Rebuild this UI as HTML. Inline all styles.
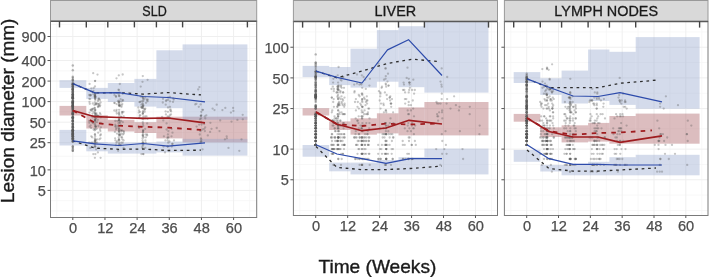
<!DOCTYPE html><html><head><meta charset="utf-8"><style>html,body{margin:0;padding:0;background:#fff;width:709px;height:277px;overflow:hidden}svg{display:block;will-change:transform}</style></head><body>
<svg width="709" height="277" viewBox="0 0 709 277" font-family='"Liberation Sans", sans-serif'>
<rect width="709" height="277" fill="#fff"/>
<clipPath id="cSLD"><rect x="50.5" y="21.2" width="206.2" height="196.3"/></clipPath>
<g clip-path="url(#cSLD)">
<line x1="50.5" x2="256.7" y1="200.67" y2="200.67" stroke="#f6f6f6" stroke-width="0.8"/>
<line x1="50.5" x2="256.7" y1="180.13" y2="180.13" stroke="#f6f6f6" stroke-width="0.8"/>
<line x1="50.5" x2="256.7" y1="156.28" y2="156.28" stroke="#f6f6f6" stroke-width="0.8"/>
<line x1="50.5" x2="256.7" y1="132.43" y2="132.43" stroke="#f6f6f6" stroke-width="0.8"/>
<line x1="50.5" x2="256.7" y1="111.89" y2="111.89" stroke="#f6f6f6" stroke-width="0.8"/>
<line x1="50.5" x2="256.7" y1="91.35" y2="91.35" stroke="#f6f6f6" stroke-width="0.8"/>
<line x1="50.5" x2="256.7" y1="70.81" y2="70.81" stroke="#f6f6f6" stroke-width="0.8"/>
<line x1="50.5" x2="256.7" y1="48.53" y2="48.53" stroke="#f6f6f6" stroke-width="0.8"/>
<line x1="50.5" x2="256.7" y1="24.50" y2="24.50" stroke="#f6f6f6" stroke-width="0.8"/>
<line x1="50.5" x2="256.7" y1="210.94" y2="210.94" stroke="#f6f6f6" stroke-width="0.8"/>
<line x1="50.5" x2="256.7" y1="12.48" y2="12.48" stroke="#f6f6f6" stroke-width="0.8"/>
<line x1="56.72" x2="56.72" y1="21.2" y2="217.5" stroke="#f6f6f6" stroke-width="0.8"/>
<line x1="88.88" x2="88.88" y1="21.2" y2="217.5" stroke="#f6f6f6" stroke-width="0.8"/>
<line x1="121.04" x2="121.04" y1="21.2" y2="217.5" stroke="#f6f6f6" stroke-width="0.8"/>
<line x1="153.20" x2="153.20" y1="21.2" y2="217.5" stroke="#f6f6f6" stroke-width="0.8"/>
<line x1="185.36" x2="185.36" y1="21.2" y2="217.5" stroke="#f6f6f6" stroke-width="0.8"/>
<line x1="217.52" x2="217.52" y1="21.2" y2="217.5" stroke="#f6f6f6" stroke-width="0.8"/>
<line x1="249.68" x2="249.68" y1="21.2" y2="217.5" stroke="#f6f6f6" stroke-width="0.8"/>
<line x1="50.5" x2="256.7" y1="190.40" y2="190.40" stroke="#efefef" stroke-width="1"/>
<line x1="50.5" x2="256.7" y1="169.86" y2="169.86" stroke="#efefef" stroke-width="1"/>
<line x1="50.5" x2="256.7" y1="142.70" y2="142.70" stroke="#efefef" stroke-width="1"/>
<line x1="50.5" x2="256.7" y1="122.16" y2="122.16" stroke="#efefef" stroke-width="1"/>
<line x1="50.5" x2="256.7" y1="101.62" y2="101.62" stroke="#efefef" stroke-width="1"/>
<line x1="50.5" x2="256.7" y1="81.08" y2="81.08" stroke="#efefef" stroke-width="1"/>
<line x1="50.5" x2="256.7" y1="60.54" y2="60.54" stroke="#efefef" stroke-width="1"/>
<line x1="50.5" x2="256.7" y1="36.51" y2="36.51" stroke="#efefef" stroke-width="1"/>
<line x1="72.80" x2="72.80" y1="21.2" y2="217.5" stroke="#efefef" stroke-width="1"/>
<line x1="104.96" x2="104.96" y1="21.2" y2="217.5" stroke="#efefef" stroke-width="1"/>
<line x1="137.12" x2="137.12" y1="21.2" y2="217.5" stroke="#efefef" stroke-width="1"/>
<line x1="169.28" x2="169.28" y1="21.2" y2="217.5" stroke="#efefef" stroke-width="1"/>
<line x1="201.44" x2="201.44" y1="21.2" y2="217.5" stroke="#efefef" stroke-width="1"/>
<line x1="233.60" x2="233.60" y1="21.2" y2="217.5" stroke="#efefef" stroke-width="1"/>
<rect x="59.5" y="105.9" width="26.8" height="9.6" fill="#a85a60" fill-opacity="0.4"/>
<rect x="86.3" y="115.2" width="21.5" height="13.3" fill="#a85a60" fill-opacity="0.4"/>
<rect x="107.8" y="119.8" width="26.6" height="11.7" fill="#a85a60" fill-opacity="0.4"/>
<rect x="134.4" y="122.2" width="22.0" height="10.8" fill="#a85a60" fill-opacity="0.4"/>
<rect x="156.4" y="116.7" width="26.2" height="21.7" fill="#a85a60" fill-opacity="0.4"/>
<rect x="182.6" y="116.7" width="64.8" height="25.7" fill="#a85a60" fill-opacity="0.4"/>
<rect x="59.5" y="80.2" width="26.8" height="7.7" fill="#8da0cb" fill-opacity="0.38"/>
<rect x="86.3" y="87.9" width="21.5" height="11.0" fill="#8da0cb" fill-opacity="0.38"/>
<rect x="107.8" y="83.0" width="26.6" height="19.0" fill="#8da0cb" fill-opacity="0.38"/>
<rect x="134.4" y="78.9" width="22.0" height="27.7" fill="#8da0cb" fill-opacity="0.38"/>
<rect x="156.4" y="50.3" width="26.2" height="57.9" fill="#8da0cb" fill-opacity="0.38"/>
<rect x="182.6" y="44.4" width="64.8" height="75.4" fill="#8da0cb" fill-opacity="0.38"/>
<rect x="59.5" y="129.9" width="26.8" height="15.6" fill="#8da0cb" fill-opacity="0.38"/>
<rect x="86.3" y="142.0" width="21.5" height="9.3" fill="#8da0cb" fill-opacity="0.38"/>
<rect x="107.8" y="142.5" width="26.6" height="11.1" fill="#8da0cb" fill-opacity="0.38"/>
<rect x="134.4" y="142.5" width="22.0" height="11.1" fill="#8da0cb" fill-opacity="0.38"/>
<rect x="156.4" y="141.5" width="26.2" height="10.9" fill="#8da0cb" fill-opacity="0.38"/>
<rect x="182.6" y="138.9" width="64.8" height="16.7" fill="#8da0cb" fill-opacity="0.38"/>
</g>
<clipPath id="cLIVER"><rect x="293.4" y="21.4" width="204.10000000000002" height="194.1"/></clipPath>
<g clip-path="url(#cLIVER)">
<line x1="293.4" x2="497.5" y1="195.11" y2="195.11" stroke="#f6f6f6" stroke-width="0.8"/>
<line x1="293.4" x2="497.5" y1="164.45" y2="164.45" stroke="#f6f6f6" stroke-width="0.8"/>
<line x1="293.4" x2="497.5" y1="128.84" y2="128.84" stroke="#f6f6f6" stroke-width="0.8"/>
<line x1="293.4" x2="497.5" y1="93.24" y2="93.24" stroke="#f6f6f6" stroke-width="0.8"/>
<line x1="293.4" x2="497.5" y1="62.57" y2="62.57" stroke="#f6f6f6" stroke-width="0.8"/>
<line x1="293.4" x2="497.5" y1="31.90" y2="31.90" stroke="#f6f6f6" stroke-width="0.8"/>
<line x1="293.4" x2="497.5" y1="210.45" y2="210.45" stroke="#f6f6f6" stroke-width="0.8"/>
<line x1="293.4" x2="497.5" y1="16.57" y2="16.57" stroke="#f6f6f6" stroke-width="0.8"/>
<line x1="299.72" x2="299.72" y1="21.4" y2="215.5" stroke="#f6f6f6" stroke-width="0.8"/>
<line x1="331.68" x2="331.68" y1="21.4" y2="215.5" stroke="#f6f6f6" stroke-width="0.8"/>
<line x1="363.63" x2="363.63" y1="21.4" y2="215.5" stroke="#f6f6f6" stroke-width="0.8"/>
<line x1="395.59" x2="395.59" y1="21.4" y2="215.5" stroke="#f6f6f6" stroke-width="0.8"/>
<line x1="427.55" x2="427.55" y1="21.4" y2="215.5" stroke="#f6f6f6" stroke-width="0.8"/>
<line x1="459.50" x2="459.50" y1="21.4" y2="215.5" stroke="#f6f6f6" stroke-width="0.8"/>
<line x1="491.46" x2="491.46" y1="21.4" y2="215.5" stroke="#f6f6f6" stroke-width="0.8"/>
<line x1="293.4" x2="497.5" y1="179.78" y2="179.78" stroke="#efefef" stroke-width="1"/>
<line x1="293.4" x2="497.5" y1="149.11" y2="149.11" stroke="#efefef" stroke-width="1"/>
<line x1="293.4" x2="497.5" y1="108.57" y2="108.57" stroke="#efefef" stroke-width="1"/>
<line x1="293.4" x2="497.5" y1="77.90" y2="77.90" stroke="#efefef" stroke-width="1"/>
<line x1="293.4" x2="497.5" y1="47.23" y2="47.23" stroke="#efefef" stroke-width="1"/>
<line x1="315.70" x2="315.70" y1="21.4" y2="215.5" stroke="#efefef" stroke-width="1"/>
<line x1="347.66" x2="347.66" y1="21.4" y2="215.5" stroke="#efefef" stroke-width="1"/>
<line x1="379.61" x2="379.61" y1="21.4" y2="215.5" stroke="#efefef" stroke-width="1"/>
<line x1="411.57" x2="411.57" y1="21.4" y2="215.5" stroke="#efefef" stroke-width="1"/>
<line x1="443.52" x2="443.52" y1="21.4" y2="215.5" stroke="#efefef" stroke-width="1"/>
<line x1="475.48" x2="475.48" y1="21.4" y2="215.5" stroke="#efefef" stroke-width="1"/>
<rect x="302.6" y="108.2" width="26.6" height="7.3" fill="#a85a60" fill-opacity="0.4"/>
<rect x="329.2" y="121.4" width="21.3" height="8.6" fill="#a85a60" fill-opacity="0.4"/>
<rect x="350.5" y="118.3" width="26.4" height="16.4" fill="#a85a60" fill-opacity="0.4"/>
<rect x="376.9" y="113.3" width="21.6" height="20.1" fill="#a85a60" fill-opacity="0.4"/>
<rect x="398.5" y="107.4" width="25.9" height="28.0" fill="#a85a60" fill-opacity="0.4"/>
<rect x="424.4" y="102.0" width="64.1" height="33.4" fill="#a85a60" fill-opacity="0.4"/>
<rect x="302.6" y="65.9" width="26.6" height="11.2" fill="#8da0cb" fill-opacity="0.38"/>
<rect x="329.2" y="67.0" width="21.3" height="18.1" fill="#8da0cb" fill-opacity="0.38"/>
<rect x="350.5" y="48.7" width="26.4" height="38.9" fill="#8da0cb" fill-opacity="0.38"/>
<rect x="376.9" y="30.1" width="21.6" height="51.6" fill="#8da0cb" fill-opacity="0.38"/>
<rect x="398.5" y="26.2" width="25.9" height="61.0" fill="#8da0cb" fill-opacity="0.38"/>
<rect x="424.4" y="21.4" width="64.1" height="71.2" fill="#8da0cb" fill-opacity="0.38"/>
<rect x="302.6" y="145.0" width="26.6" height="11.7" fill="#8da0cb" fill-opacity="0.38"/>
<rect x="329.2" y="162.6" width="21.3" height="8.7" fill="#8da0cb" fill-opacity="0.38"/>
<rect x="350.5" y="162.6" width="26.4" height="11.8" fill="#8da0cb" fill-opacity="0.38"/>
<rect x="376.9" y="160.0" width="21.6" height="14.4" fill="#8da0cb" fill-opacity="0.38"/>
<rect x="398.5" y="157.2" width="25.9" height="17.2" fill="#8da0cb" fill-opacity="0.38"/>
<rect x="424.4" y="148.6" width="64.1" height="25.8" fill="#8da0cb" fill-opacity="0.38"/>
</g>
<clipPath id="cLYMPHNODES"><rect x="504.4" y="21.4" width="203.60000000000002" height="194.1"/></clipPath>
<g clip-path="url(#cLYMPHNODES)">
<line x1="504.4" x2="708.0" y1="195.11" y2="195.11" stroke="#f6f6f6" stroke-width="0.8"/>
<line x1="504.4" x2="708.0" y1="164.45" y2="164.45" stroke="#f6f6f6" stroke-width="0.8"/>
<line x1="504.4" x2="708.0" y1="128.84" y2="128.84" stroke="#f6f6f6" stroke-width="0.8"/>
<line x1="504.4" x2="708.0" y1="93.24" y2="93.24" stroke="#f6f6f6" stroke-width="0.8"/>
<line x1="504.4" x2="708.0" y1="62.57" y2="62.57" stroke="#f6f6f6" stroke-width="0.8"/>
<line x1="504.4" x2="708.0" y1="31.90" y2="31.90" stroke="#f6f6f6" stroke-width="0.8"/>
<line x1="504.4" x2="708.0" y1="210.45" y2="210.45" stroke="#f6f6f6" stroke-width="0.8"/>
<line x1="504.4" x2="708.0" y1="16.57" y2="16.57" stroke="#f6f6f6" stroke-width="0.8"/>
<line x1="510.79" x2="510.79" y1="21.4" y2="215.5" stroke="#f6f6f6" stroke-width="0.8"/>
<line x1="542.61" x2="542.61" y1="21.4" y2="215.5" stroke="#f6f6f6" stroke-width="0.8"/>
<line x1="574.44" x2="574.44" y1="21.4" y2="215.5" stroke="#f6f6f6" stroke-width="0.8"/>
<line x1="606.26" x2="606.26" y1="21.4" y2="215.5" stroke="#f6f6f6" stroke-width="0.8"/>
<line x1="638.08" x2="638.08" y1="21.4" y2="215.5" stroke="#f6f6f6" stroke-width="0.8"/>
<line x1="669.91" x2="669.91" y1="21.4" y2="215.5" stroke="#f6f6f6" stroke-width="0.8"/>
<line x1="701.73" x2="701.73" y1="21.4" y2="215.5" stroke="#f6f6f6" stroke-width="0.8"/>
<line x1="504.4" x2="708.0" y1="179.78" y2="179.78" stroke="#efefef" stroke-width="1"/>
<line x1="504.4" x2="708.0" y1="149.11" y2="149.11" stroke="#efefef" stroke-width="1"/>
<line x1="504.4" x2="708.0" y1="108.57" y2="108.57" stroke="#efefef" stroke-width="1"/>
<line x1="504.4" x2="708.0" y1="77.90" y2="77.90" stroke="#efefef" stroke-width="1"/>
<line x1="504.4" x2="708.0" y1="47.23" y2="47.23" stroke="#efefef" stroke-width="1"/>
<line x1="526.70" x2="526.70" y1="21.4" y2="215.5" stroke="#efefef" stroke-width="1"/>
<line x1="558.52" x2="558.52" y1="21.4" y2="215.5" stroke="#efefef" stroke-width="1"/>
<line x1="590.35" x2="590.35" y1="21.4" y2="215.5" stroke="#efefef" stroke-width="1"/>
<line x1="622.17" x2="622.17" y1="21.4" y2="215.5" stroke="#efefef" stroke-width="1"/>
<line x1="654.00" x2="654.00" y1="21.4" y2="215.5" stroke="#efefef" stroke-width="1"/>
<line x1="685.82" x2="685.82" y1="21.4" y2="215.5" stroke="#efefef" stroke-width="1"/>
<rect x="513.7" y="113.9" width="26.6" height="7.8" fill="#a85a60" fill-opacity="0.4"/>
<rect x="540.3" y="127.3" width="21.3" height="9.7" fill="#a85a60" fill-opacity="0.4"/>
<rect x="561.6" y="125.3" width="26.5" height="17.1" fill="#a85a60" fill-opacity="0.4"/>
<rect x="588.1" y="122.9" width="21.3" height="18.7" fill="#a85a60" fill-opacity="0.4"/>
<rect x="609.4" y="116.0" width="26.3" height="27.7" fill="#a85a60" fill-opacity="0.4"/>
<rect x="635.7" y="113.6" width="63.9" height="30.1" fill="#a85a60" fill-opacity="0.4"/>
<rect x="513.7" y="72.1" width="26.6" height="10.9" fill="#8da0cb" fill-opacity="0.38"/>
<rect x="540.3" y="78.3" width="21.3" height="16.6" fill="#8da0cb" fill-opacity="0.38"/>
<rect x="561.6" y="70.6" width="26.5" height="32.9" fill="#8da0cb" fill-opacity="0.38"/>
<rect x="588.1" y="49.5" width="21.3" height="51.5" fill="#8da0cb" fill-opacity="0.38"/>
<rect x="609.4" y="51.8" width="26.3" height="53.1" fill="#8da0cb" fill-opacity="0.38"/>
<rect x="635.7" y="37.1" width="63.9" height="71.6" fill="#8da0cb" fill-opacity="0.38"/>
<rect x="513.7" y="149.9" width="26.6" height="11.9" fill="#8da0cb" fill-opacity="0.38"/>
<rect x="540.3" y="164.9" width="21.3" height="6.6" fill="#8da0cb" fill-opacity="0.38"/>
<rect x="561.6" y="165.0" width="26.5" height="10.3" fill="#8da0cb" fill-opacity="0.38"/>
<rect x="588.1" y="161.8" width="21.3" height="13.5" fill="#8da0cb" fill-opacity="0.38"/>
<rect x="609.4" y="157.2" width="26.3" height="18.1" fill="#8da0cb" fill-opacity="0.38"/>
<rect x="635.7" y="154.8" width="63.9" height="20.5" fill="#8da0cb" fill-opacity="0.38"/>
</g>
<g clip-path="url(#cSLD)" fill="#555555" fill-opacity="0.33">
<circle cx="72.8" cy="134.5" r="1.2" fill-opacity="0.42"/>
<circle cx="72.8" cy="113.5" r="1.2" fill-opacity="0.42"/>
<circle cx="72.8" cy="94.3" r="1.2" fill-opacity="0.42"/>
<circle cx="72.8" cy="98.3" r="1.2" fill-opacity="0.42"/>
<circle cx="72.8" cy="96.7" r="1.2" fill-opacity="0.42"/>
<circle cx="72.8" cy="114.8" r="1.2" fill-opacity="0.42"/>
<circle cx="72.8" cy="92.5" r="1.2" fill-opacity="0.42"/>
<circle cx="72.8" cy="108.6" r="1.2" fill-opacity="0.42"/>
<circle cx="72.8" cy="139.3" r="1.2" fill-opacity="0.42"/>
<circle cx="72.8" cy="113.5" r="1.2" fill-opacity="0.42"/>
<circle cx="72.8" cy="141.5" r="1.2" fill-opacity="0.42"/>
<circle cx="72.8" cy="84.5" r="1.2" fill-opacity="0.42"/>
<circle cx="72.8" cy="83.7" r="1.2" fill-opacity="0.42"/>
<circle cx="72.8" cy="121.6" r="1.2" fill-opacity="0.42"/>
<circle cx="72.8" cy="123.4" r="1.2" fill-opacity="0.42"/>
<circle cx="72.8" cy="94.5" r="1.2" fill-opacity="0.42"/>
<circle cx="72.8" cy="130.3" r="1.2" fill-opacity="0.42"/>
<circle cx="72.8" cy="131.9" r="1.2" fill-opacity="0.42"/>
<circle cx="72.8" cy="131.9" r="1.2" fill-opacity="0.42"/>
<circle cx="72.8" cy="121.0" r="1.2" fill-opacity="0.42"/>
<circle cx="72.8" cy="102.8" r="1.2" fill-opacity="0.42"/>
<circle cx="72.8" cy="80.6" r="1.2" fill-opacity="0.42"/>
<circle cx="72.8" cy="130.3" r="1.2" fill-opacity="0.42"/>
<circle cx="72.8" cy="82.3" r="1.2" fill-opacity="0.42"/>
<circle cx="72.8" cy="107.1" r="1.2" fill-opacity="0.42"/>
<circle cx="72.8" cy="86.6" r="1.2" fill-opacity="0.42"/>
<circle cx="72.8" cy="91.4" r="1.2" fill-opacity="0.42"/>
<circle cx="72.8" cy="133.6" r="1.2" fill-opacity="0.42"/>
<circle cx="72.8" cy="101.6" r="1.2" fill-opacity="0.42"/>
<circle cx="72.8" cy="136.3" r="1.2" fill-opacity="0.42"/>
<circle cx="72.8" cy="150.8" r="1.2" fill-opacity="0.42"/>
<circle cx="72.8" cy="117.8" r="1.2" fill-opacity="0.42"/>
<circle cx="72.8" cy="94.1" r="1.2" fill-opacity="0.42"/>
<circle cx="72.8" cy="106.4" r="1.2" fill-opacity="0.42"/>
<circle cx="72.8" cy="131.1" r="1.2" fill-opacity="0.42"/>
<circle cx="72.8" cy="90.0" r="1.2" fill-opacity="0.42"/>
<circle cx="72.8" cy="85.7" r="1.2" fill-opacity="0.42"/>
<circle cx="72.8" cy="128.0" r="1.2" fill-opacity="0.42"/>
<circle cx="72.8" cy="113.9" r="1.2" fill-opacity="0.42"/>
<circle cx="72.8" cy="102.2" r="1.2" fill-opacity="0.42"/>
<circle cx="72.8" cy="86.4" r="1.2" fill-opacity="0.42"/>
<circle cx="72.8" cy="135.4" r="1.2" fill-opacity="0.42"/>
<circle cx="72.8" cy="107.1" r="1.2" fill-opacity="0.42"/>
<circle cx="72.8" cy="79.5" r="1.2" fill-opacity="0.42"/>
<circle cx="72.8" cy="104.1" r="1.2" fill-opacity="0.42"/>
<circle cx="72.8" cy="97.5" r="1.2" fill-opacity="0.42"/>
<circle cx="72.8" cy="94.1" r="1.2" fill-opacity="0.42"/>
<circle cx="72.8" cy="110.1" r="1.2" fill-opacity="0.42"/>
<circle cx="72.8" cy="124.6" r="1.2" fill-opacity="0.42"/>
<circle cx="72.8" cy="105.1" r="1.2" fill-opacity="0.42"/>
<circle cx="72.8" cy="109.0" r="1.2" fill-opacity="0.42"/>
<circle cx="72.8" cy="121.0" r="1.2" fill-opacity="0.42"/>
<circle cx="72.8" cy="89.4" r="1.2" fill-opacity="0.42"/>
<circle cx="72.8" cy="119.9" r="1.2" fill-opacity="0.42"/>
<circle cx="72.8" cy="111.8" r="1.2" fill-opacity="0.42"/>
<circle cx="72.8" cy="94.8" r="1.2" fill-opacity="0.42"/>
<circle cx="72.8" cy="91.7" r="1.2" fill-opacity="0.42"/>
<circle cx="72.8" cy="87.1" r="1.2" fill-opacity="0.42"/>
<circle cx="72.8" cy="101.3" r="1.2" fill-opacity="0.42"/>
<circle cx="72.8" cy="127.3" r="1.2" fill-opacity="0.42"/>
<circle cx="72.8" cy="89.8" r="1.2" fill-opacity="0.42"/>
<circle cx="72.8" cy="86.1" r="1.2" fill-opacity="0.42"/>
<circle cx="72.8" cy="97.7" r="1.2" fill-opacity="0.42"/>
<circle cx="72.8" cy="94.5" r="1.2" fill-opacity="0.42"/>
<circle cx="72.8" cy="109.8" r="1.2" fill-opacity="0.42"/>
<circle cx="72.8" cy="110.9" r="1.2" fill-opacity="0.42"/>
<circle cx="72.8" cy="105.4" r="1.2" fill-opacity="0.42"/>
<circle cx="72.8" cy="134.5" r="1.2" fill-opacity="0.42"/>
<circle cx="72.8" cy="99.9" r="1.2" fill-opacity="0.42"/>
<circle cx="72.8" cy="88.8" r="1.2" fill-opacity="0.42"/>
<circle cx="72.8" cy="132.7" r="1.2" fill-opacity="0.42"/>
<circle cx="72.8" cy="95.2" r="1.2" fill-opacity="0.42"/>
<circle cx="72.8" cy="98.3" r="1.2" fill-opacity="0.42"/>
<circle cx="72.8" cy="136.3" r="1.2" fill-opacity="0.42"/>
<circle cx="72.8" cy="140.4" r="1.2" fill-opacity="0.42"/>
<circle cx="72.8" cy="104.7" r="1.2" fill-opacity="0.42"/>
<circle cx="72.8" cy="129.5" r="1.2" fill-opacity="0.42"/>
<circle cx="72.8" cy="123.4" r="1.2" fill-opacity="0.42"/>
<circle cx="72.8" cy="103.1" r="1.2" fill-opacity="0.42"/>
<circle cx="72.8" cy="101.6" r="1.2" fill-opacity="0.42"/>
<circle cx="72.8" cy="95.7" r="1.2" fill-opacity="0.42"/>
<circle cx="72.8" cy="106.4" r="1.2" fill-opacity="0.42"/>
<circle cx="72.8" cy="121.6" r="1.2" fill-opacity="0.42"/>
<circle cx="72.8" cy="147.9" r="1.2" fill-opacity="0.42"/>
<circle cx="72.8" cy="136.3" r="1.2" fill-opacity="0.42"/>
<circle cx="72.8" cy="131.1" r="1.2" fill-opacity="0.42"/>
<circle cx="72.8" cy="109.0" r="1.2" fill-opacity="0.42"/>
<circle cx="72.8" cy="97.2" r="1.2" fill-opacity="0.42"/>
<circle cx="72.8" cy="130.3" r="1.2" fill-opacity="0.42"/>
<circle cx="72.8" cy="117.8" r="1.2" fill-opacity="0.42"/>
<circle cx="72.8" cy="84.4" r="1.2" fill-opacity="0.42"/>
<circle cx="72.8" cy="117.3" r="1.2" fill-opacity="0.42"/>
<circle cx="72.8" cy="97.7" r="1.2" fill-opacity="0.42"/>
<circle cx="72.8" cy="103.5" r="1.2" fill-opacity="0.42"/>
<circle cx="72.8" cy="101.0" r="1.2" fill-opacity="0.42"/>
<circle cx="72.8" cy="112.2" r="1.2" fill-opacity="0.42"/>
<circle cx="72.8" cy="107.9" r="1.2" fill-opacity="0.42"/>
<circle cx="72.8" cy="98.5" r="1.2" fill-opacity="0.42"/>
<circle cx="72.8" cy="133.6" r="1.2" fill-opacity="0.42"/>
<circle cx="72.8" cy="92.7" r="1.2" fill-opacity="0.42"/>
<circle cx="72.8" cy="88.3" r="1.2" fill-opacity="0.42"/>
<circle cx="72.8" cy="141.5" r="1.2" fill-opacity="0.42"/>
<circle cx="72.8" cy="131.1" r="1.2" fill-opacity="0.42"/>
<circle cx="72.8" cy="127.3" r="1.2" fill-opacity="0.42"/>
<circle cx="72.8" cy="138.3" r="1.2" fill-opacity="0.42"/>
<circle cx="72.8" cy="134.5" r="1.2" fill-opacity="0.42"/>
<circle cx="72.8" cy="101.9" r="1.2" fill-opacity="0.42"/>
<circle cx="72.8" cy="136.3" r="1.2" fill-opacity="0.42"/>
<circle cx="72.8" cy="139.3" r="1.2" fill-opacity="0.42"/>
<circle cx="72.8" cy="83.9" r="1.2" fill-opacity="0.42"/>
<circle cx="72.8" cy="117.3" r="1.2" fill-opacity="0.42"/>
<circle cx="72.8" cy="108.2" r="1.2" fill-opacity="0.42"/>
<circle cx="72.8" cy="112.2" r="1.2" fill-opacity="0.42"/>
<circle cx="72.8" cy="121.0" r="1.2" fill-opacity="0.42"/>
<circle cx="72.8" cy="113.5" r="1.2" fill-opacity="0.42"/>
<circle cx="72.8" cy="131.1" r="1.2" fill-opacity="0.42"/>
<circle cx="72.8" cy="105.8" r="1.2" fill-opacity="0.42"/>
<circle cx="72.8" cy="127.3" r="1.2" fill-opacity="0.42"/>
<circle cx="72.8" cy="134.5" r="1.2" fill-opacity="0.42"/>
<circle cx="72.8" cy="130.3" r="1.2" fill-opacity="0.42"/>
<circle cx="72.8" cy="116.3" r="1.2" fill-opacity="0.42"/>
<circle cx="72.8" cy="84.7" r="1.2" fill-opacity="0.42"/>
<circle cx="72.8" cy="104.7" r="1.2" fill-opacity="0.42"/>
<circle cx="72.8" cy="76.7" r="1.2" fill-opacity="0.42"/>
<circle cx="72.8" cy="117.3" r="1.2" fill-opacity="0.42"/>
<circle cx="72.8" cy="126.6" r="1.2" fill-opacity="0.42"/>
<circle cx="72.8" cy="98.0" r="1.2" fill-opacity="0.42"/>
<circle cx="72.8" cy="131.1" r="1.2" fill-opacity="0.42"/>
<circle cx="72.8" cy="65.5" r="1.2" fill-opacity="0.42"/>
<circle cx="72.8" cy="117.8" r="1.2" fill-opacity="0.42"/>
<circle cx="72.8" cy="126.0" r="1.2" fill-opacity="0.42"/>
<circle cx="72.8" cy="126.0" r="1.2" fill-opacity="0.42"/>
<circle cx="72.8" cy="124.0" r="1.2" fill-opacity="0.42"/>
<circle cx="72.8" cy="84.4" r="1.2" fill-opacity="0.42"/>
<circle cx="72.8" cy="70.2" r="1.2" fill-opacity="0.42"/>
<circle cx="72.8" cy="107.1" r="1.2" fill-opacity="0.42"/>
<circle cx="72.8" cy="128.8" r="1.2" fill-opacity="0.42"/>
<circle cx="72.8" cy="149.3" r="1.2" fill-opacity="0.42"/>
<circle cx="72.8" cy="139.3" r="1.2" fill-opacity="0.42"/>
<circle cx="72.8" cy="124.0" r="1.2" fill-opacity="0.42"/>
<circle cx="72.8" cy="101.9" r="1.2" fill-opacity="0.42"/>
<circle cx="72.8" cy="102.8" r="1.2" fill-opacity="0.42"/>
<circle cx="72.8" cy="89.4" r="1.2" fill-opacity="0.42"/>
<circle cx="72.8" cy="91.2" r="1.2" fill-opacity="0.42"/>
<circle cx="72.8" cy="120.4" r="1.2" fill-opacity="0.42"/>
<circle cx="72.8" cy="100.2" r="1.2" fill-opacity="0.42"/>
<circle cx="72.8" cy="114.4" r="1.2" fill-opacity="0.42"/>
<circle cx="72.8" cy="97.0" r="1.2" fill-opacity="0.42"/>
<circle cx="72.8" cy="131.9" r="1.2" fill-opacity="0.42"/>
<circle cx="72.8" cy="77.7" r="1.2" fill-opacity="0.42"/>
<circle cx="72.8" cy="146.5" r="1.2" fill-opacity="0.42"/>
<circle cx="72.8" cy="103.5" r="1.2" fill-opacity="0.42"/>
<circle cx="72.8" cy="120.4" r="1.2" fill-opacity="0.42"/>
<circle cx="72.8" cy="92.5" r="1.2" fill-opacity="0.42"/>
<circle cx="72.8" cy="134.5" r="1.2" fill-opacity="0.42"/>
<circle cx="72.8" cy="87.1" r="1.2" fill-opacity="0.42"/>
<circle cx="72.8" cy="150.8" r="1.2" fill-opacity="0.42"/>
<circle cx="72.8" cy="96.5" r="1.2" fill-opacity="0.42"/>
<circle cx="72.8" cy="98.3" r="1.2" fill-opacity="0.42"/>
<circle cx="72.8" cy="110.1" r="1.2" fill-opacity="0.42"/>
<circle cx="72.8" cy="132.7" r="1.2" fill-opacity="0.42"/>
<circle cx="72.8" cy="118.3" r="1.2" fill-opacity="0.42"/>
<circle cx="72.8" cy="113.9" r="1.2" fill-opacity="0.42"/>
<circle cx="72.8" cy="130.3" r="1.2" fill-opacity="0.42"/>
<circle cx="72.8" cy="133.6" r="1.2" fill-opacity="0.42"/>
<circle cx="72.8" cy="90.0" r="1.2" fill-opacity="0.42"/>
<circle cx="72.8" cy="107.5" r="1.2" fill-opacity="0.42"/>
<circle cx="72.8" cy="126.0" r="1.2" fill-opacity="0.42"/>
<circle cx="72.8" cy="103.1" r="1.2" fill-opacity="0.42"/>
<circle cx="72.8" cy="102.5" r="1.2" fill-opacity="0.42"/>
<circle cx="72.8" cy="135.4" r="1.2" fill-opacity="0.42"/>
<circle cx="72.8" cy="105.4" r="1.2" fill-opacity="0.42"/>
<circle cx="72.8" cy="105.4" r="1.2" fill-opacity="0.42"/>
<circle cx="72.8" cy="136.3" r="1.2" fill-opacity="0.42"/>
<circle cx="72.8" cy="124.0" r="1.2" fill-opacity="0.42"/>
<circle cx="72.8" cy="88.8" r="1.2" fill-opacity="0.42"/>
<circle cx="72.8" cy="105.8" r="1.2" fill-opacity="0.42"/>
<circle cx="72.8" cy="129.5" r="1.2" fill-opacity="0.42"/>
<circle cx="72.8" cy="117.8" r="1.2" fill-opacity="0.42"/>
<circle cx="72.8" cy="113.5" r="1.2" fill-opacity="0.42"/>
<circle cx="72.8" cy="98.0" r="1.2" fill-opacity="0.42"/>
<circle cx="72.8" cy="89.0" r="1.2" fill-opacity="0.42"/>
<circle cx="72.8" cy="138.3" r="1.2" fill-opacity="0.42"/>
<circle cx="72.8" cy="141.5" r="1.2" fill-opacity="0.42"/>
<circle cx="72.8" cy="114.4" r="1.2" fill-opacity="0.42"/>
<circle cx="72.8" cy="146.5" r="1.2" fill-opacity="0.42"/>
<circle cx="72.8" cy="133.6" r="1.2" fill-opacity="0.42"/>
<circle cx="72.8" cy="137.3" r="1.2" fill-opacity="0.42"/>
<circle cx="72.8" cy="138.3" r="1.2" fill-opacity="0.42"/>
<circle cx="72.8" cy="103.1" r="1.2" fill-opacity="0.42"/>
<circle cx="72.8" cy="138.3" r="1.2" fill-opacity="0.42"/>
<circle cx="72.8" cy="106.4" r="1.2" fill-opacity="0.42"/>
<circle cx="72.8" cy="79.9" r="1.2" fill-opacity="0.42"/>
<circle cx="72.8" cy="134.5" r="1.2" fill-opacity="0.42"/>
<circle cx="72.8" cy="95.0" r="1.2" fill-opacity="0.42"/>
<circle cx="72.8" cy="105.4" r="1.2" fill-opacity="0.42"/>
<circle cx="72.8" cy="132.7" r="1.2" fill-opacity="0.42"/>
<circle cx="72.8" cy="83.6" r="1.2" fill-opacity="0.42"/>
<circle cx="72.8" cy="96.5" r="1.2" fill-opacity="0.42"/>
<circle cx="72.8" cy="118.8" r="1.2" fill-opacity="0.42"/>
<circle cx="90.2" cy="99.1" r="1.15"/>
<circle cx="90.4" cy="94.8" r="1.15"/>
<circle cx="100.0" cy="129.5" r="1.15"/>
<circle cx="98.4" cy="126.0" r="1.15"/>
<circle cx="94.6" cy="116.3" r="1.15"/>
<circle cx="90.5" cy="109.8" r="1.15"/>
<circle cx="95.0" cy="116.3" r="1.15"/>
<circle cx="94.6" cy="95.5" r="1.15"/>
<circle cx="96.1" cy="149.3" r="1.15"/>
<circle cx="100.6" cy="102.5" r="1.15"/>
<circle cx="89.5" cy="112.6" r="1.15"/>
<circle cx="95.4" cy="154.1" r="1.15"/>
<circle cx="95.3" cy="139.3" r="1.15"/>
<circle cx="94.8" cy="96.5" r="1.15"/>
<circle cx="100.2" cy="135.4" r="1.15"/>
<circle cx="94.9" cy="102.5" r="1.15"/>
<circle cx="100.2" cy="105.4" r="1.15"/>
<circle cx="94.9" cy="134.5" r="1.15"/>
<circle cx="95.1" cy="119.9" r="1.15"/>
<circle cx="89.2" cy="95.0" r="1.15"/>
<circle cx="95.2" cy="98.5" r="1.15"/>
<circle cx="95.0" cy="86.4" r="1.15"/>
<circle cx="95.0" cy="121.0" r="1.15"/>
<circle cx="91.3" cy="136.3" r="1.15"/>
<circle cx="94.8" cy="128.8" r="1.15"/>
<circle cx="100.4" cy="131.1" r="1.15"/>
<circle cx="94.8" cy="97.7" r="1.15"/>
<circle cx="95.1" cy="141.5" r="1.15"/>
<circle cx="91.0" cy="110.5" r="1.15"/>
<circle cx="98.3" cy="115.8" r="1.15"/>
<circle cx="89.3" cy="98.8" r="1.15"/>
<circle cx="95.0" cy="81.1" r="1.15"/>
<circle cx="93.3" cy="94.1" r="1.15"/>
<circle cx="95.1" cy="112.6" r="1.15"/>
<circle cx="92.5" cy="122.8" r="1.15"/>
<circle cx="95.3" cy="104.1" r="1.15"/>
<circle cx="95.2" cy="110.5" r="1.15"/>
<circle cx="95.0" cy="140.4" r="1.15"/>
<circle cx="94.7" cy="141.5" r="1.15"/>
<circle cx="99.0" cy="99.1" r="1.15"/>
<circle cx="95.4" cy="126.6" r="1.15"/>
<circle cx="96.1" cy="118.3" r="1.15"/>
<circle cx="99.7" cy="106.4" r="1.15"/>
<circle cx="99.3" cy="103.8" r="1.15"/>
<circle cx="100.7" cy="122.8" r="1.15"/>
<circle cx="95.4" cy="93.4" r="1.15"/>
<circle cx="98.0" cy="106.4" r="1.15"/>
<circle cx="95.2" cy="109.8" r="1.15"/>
<circle cx="94.7" cy="130.3" r="1.15"/>
<circle cx="95.6" cy="97.0" r="1.15"/>
<circle cx="95.1" cy="95.0" r="1.15"/>
<circle cx="94.7" cy="117.3" r="1.15"/>
<circle cx="96.6" cy="115.3" r="1.15"/>
<circle cx="95.2" cy="80.8" r="1.15"/>
<circle cx="93.7" cy="87.9" r="1.15"/>
<circle cx="95.1" cy="98.8" r="1.15"/>
<circle cx="98.0" cy="107.1" r="1.15"/>
<circle cx="100.6" cy="157.8" r="1.15"/>
<circle cx="94.4" cy="105.1" r="1.15"/>
<circle cx="94.8" cy="119.9" r="1.15"/>
<circle cx="95.3" cy="97.0" r="1.15"/>
<circle cx="91.5" cy="109.4" r="1.15"/>
<circle cx="89.3" cy="122.8" r="1.15"/>
<circle cx="95.1" cy="95.2" r="1.15"/>
<circle cx="100.5" cy="138.3" r="1.15"/>
<circle cx="98.2" cy="132.7" r="1.15"/>
<circle cx="91.1" cy="128.0" r="1.15"/>
<circle cx="93.7" cy="123.4" r="1.15"/>
<circle cx="97.1" cy="139.3" r="1.15"/>
<circle cx="98.3" cy="147.9" r="1.15"/>
<circle cx="89.2" cy="121.0" r="1.15"/>
<circle cx="89.2" cy="142.7" r="1.15"/>
<circle cx="92.2" cy="115.8" r="1.15"/>
<circle cx="95.1" cy="93.6" r="1.15"/>
<circle cx="93.4" cy="90.8" r="1.15"/>
<circle cx="92.3" cy="121.6" r="1.15"/>
<circle cx="93.6" cy="129.5" r="1.15"/>
<circle cx="96.6" cy="103.1" r="1.15"/>
<circle cx="97.1" cy="122.2" r="1.15"/>
<circle cx="100.8" cy="117.3" r="1.15"/>
<circle cx="93.3" cy="154.1" r="1.15"/>
<circle cx="95.3" cy="122.8" r="1.15"/>
<circle cx="94.7" cy="143.9" r="1.15"/>
<circle cx="95.3" cy="99.9" r="1.15"/>
<circle cx="98.0" cy="101.0" r="1.15"/>
<circle cx="100.0" cy="99.9" r="1.15"/>
<circle cx="93.2" cy="73.2" r="1.15"/>
<circle cx="98.8" cy="98.3" r="1.15"/>
<circle cx="95.9" cy="115.8" r="1.15"/>
<circle cx="92.4" cy="109.0" r="1.15"/>
<circle cx="92.2" cy="137.3" r="1.15"/>
<circle cx="95.0" cy="116.3" r="1.15"/>
<circle cx="94.8" cy="138.3" r="1.15"/>
<circle cx="90.7" cy="125.3" r="1.15"/>
<circle cx="95.1" cy="110.1" r="1.15"/>
<circle cx="95.4" cy="129.5" r="1.15"/>
<circle cx="92.6" cy="113.5" r="1.15"/>
<circle cx="95.9" cy="126.6" r="1.15"/>
<circle cx="96.5" cy="113.5" r="1.15"/>
<circle cx="92.4" cy="122.2" r="1.15"/>
<circle cx="97.5" cy="74.6" r="1.15"/>
<circle cx="100.9" cy="127.3" r="1.15"/>
<circle cx="95.4" cy="121.0" r="1.15"/>
<circle cx="99.4" cy="139.3" r="1.15"/>
<circle cx="95.0" cy="134.5" r="1.15"/>
<circle cx="95.2" cy="113.9" r="1.15"/>
<circle cx="96.7" cy="128.8" r="1.15"/>
<circle cx="93.0" cy="109.0" r="1.15"/>
<circle cx="95.9" cy="113.9" r="1.15"/>
<circle cx="89.5" cy="101.9" r="1.15"/>
<circle cx="89.8" cy="103.8" r="1.15"/>
<circle cx="97.9" cy="152.4" r="1.15"/>
<circle cx="95.0" cy="113.9" r="1.15"/>
<circle cx="95.2" cy="140.4" r="1.15"/>
<circle cx="98.6" cy="104.7" r="1.15"/>
<circle cx="92.5" cy="110.9" r="1.15"/>
<circle cx="95.2" cy="136.3" r="1.15"/>
<circle cx="95.2" cy="142.7" r="1.15"/>
<circle cx="100.5" cy="114.4" r="1.15"/>
<circle cx="98.1" cy="103.8" r="1.15"/>
<circle cx="89.6" cy="83.9" r="1.15"/>
<circle cx="94.7" cy="107.9" r="1.15"/>
<circle cx="94.8" cy="146.5" r="1.15"/>
<circle cx="95.8" cy="140.4" r="1.15"/>
<circle cx="94.9" cy="157.8" r="1.15"/>
<circle cx="90.9" cy="95.2" r="1.15"/>
<circle cx="92.7" cy="142.7" r="1.15"/>
<circle cx="89.7" cy="126.6" r="1.15"/>
<circle cx="98.9" cy="105.8" r="1.15"/>
<circle cx="96.4" cy="103.8" r="1.15"/>
<circle cx="90.2" cy="95.7" r="1.15"/>
<circle cx="96.0" cy="126.6" r="1.15"/>
<circle cx="94.9" cy="146.5" r="1.15"/>
<circle cx="96.1" cy="104.4" r="1.15"/>
<circle cx="92.8" cy="103.5" r="1.15"/>
<circle cx="95.7" cy="142.7" r="1.15"/>
<circle cx="95.6" cy="118.8" r="1.15"/>
<circle cx="90.4" cy="147.9" r="1.15"/>
<circle cx="97.6" cy="115.3" r="1.15"/>
<circle cx="98.3" cy="99.6" r="1.15"/>
<circle cx="97.8" cy="116.3" r="1.15"/>
<circle cx="95.2" cy="143.9" r="1.15"/>
<circle cx="95.1" cy="124.6" r="1.15"/>
<circle cx="92.6" cy="117.3" r="1.15"/>
<circle cx="95.3" cy="125.3" r="1.15"/>
<circle cx="97.8" cy="119.9" r="1.15"/>
<circle cx="95.4" cy="146.5" r="1.15"/>
<circle cx="90.9" cy="121.0" r="1.15"/>
<circle cx="94.1" cy="112.2" r="1.15"/>
<circle cx="97.1" cy="142.7" r="1.15"/>
<circle cx="91.3" cy="88.3" r="1.15"/>
<circle cx="100.9" cy="134.5" r="1.15"/>
<circle cx="95.2" cy="126.6" r="1.15"/>
<circle cx="95.1" cy="96.2" r="1.15"/>
<circle cx="95.2" cy="93.2" r="1.15"/>
<circle cx="94.9" cy="96.5" r="1.15"/>
<circle cx="94.6" cy="108.2" r="1.15"/>
<circle cx="99.9" cy="113.1" r="1.15"/>
<circle cx="95.1" cy="119.9" r="1.15"/>
<circle cx="91.4" cy="142.7" r="1.15"/>
<circle cx="122.4" cy="139.3" r="1.15"/>
<circle cx="119.3" cy="106.1" r="1.15"/>
<circle cx="122.5" cy="99.9" r="1.15"/>
<circle cx="123.1" cy="100.5" r="1.15"/>
<circle cx="119.1" cy="142.7" r="1.15"/>
<circle cx="122.2" cy="111.8" r="1.15"/>
<circle cx="120.9" cy="130.3" r="1.15"/>
<circle cx="123.6" cy="147.9" r="1.15"/>
<circle cx="122.1" cy="137.3" r="1.15"/>
<circle cx="122.2" cy="113.5" r="1.15"/>
<circle cx="118.9" cy="126.0" r="1.15"/>
<circle cx="123.9" cy="133.6" r="1.15"/>
<circle cx="119.3" cy="118.3" r="1.15"/>
<circle cx="122.7" cy="142.7" r="1.15"/>
<circle cx="118.7" cy="137.3" r="1.15"/>
<circle cx="118.8" cy="94.5" r="1.15"/>
<circle cx="120.9" cy="116.8" r="1.15"/>
<circle cx="123.6" cy="131.1" r="1.15"/>
<circle cx="115.3" cy="124.6" r="1.15"/>
<circle cx="120.3" cy="135.4" r="1.15"/>
<circle cx="115.7" cy="126.0" r="1.15"/>
<circle cx="116.4" cy="128.0" r="1.15"/>
<circle cx="115.9" cy="96.5" r="1.15"/>
<circle cx="118.8" cy="128.8" r="1.15"/>
<circle cx="118.5" cy="123.4" r="1.15"/>
<circle cx="115.9" cy="145.2" r="1.15"/>
<circle cx="122.3" cy="104.1" r="1.15"/>
<circle cx="123.6" cy="140.4" r="1.15"/>
<circle cx="119.3" cy="115.3" r="1.15"/>
<circle cx="119.2" cy="105.4" r="1.15"/>
<circle cx="121.4" cy="116.8" r="1.15"/>
<circle cx="120.6" cy="99.1" r="1.15"/>
<circle cx="115.3" cy="121.0" r="1.15"/>
<circle cx="121.1" cy="121.0" r="1.15"/>
<circle cx="122.9" cy="134.5" r="1.15"/>
<circle cx="118.8" cy="139.3" r="1.15"/>
<circle cx="119.8" cy="84.0" r="1.15"/>
<circle cx="116.4" cy="142.7" r="1.15"/>
<circle cx="115.4" cy="140.4" r="1.15"/>
<circle cx="122.1" cy="130.3" r="1.15"/>
<circle cx="118.6" cy="89.6" r="1.15"/>
<circle cx="119.3" cy="143.9" r="1.15"/>
<circle cx="120.0" cy="106.1" r="1.15"/>
<circle cx="119.6" cy="122.8" r="1.15"/>
<circle cx="114.9" cy="131.9" r="1.15"/>
<circle cx="118.6" cy="117.3" r="1.15"/>
<circle cx="115.1" cy="138.3" r="1.15"/>
<circle cx="119.1" cy="109.8" r="1.15"/>
<circle cx="118.8" cy="128.0" r="1.15"/>
<circle cx="121.4" cy="137.3" r="1.15"/>
<circle cx="119.8" cy="101.3" r="1.15"/>
<circle cx="118.8" cy="102.5" r="1.15"/>
<circle cx="117.0" cy="133.6" r="1.15"/>
<circle cx="114.3" cy="110.5" r="1.15"/>
<circle cx="116.1" cy="96.5" r="1.15"/>
<circle cx="114.5" cy="103.1" r="1.15"/>
<circle cx="120.0" cy="134.5" r="1.15"/>
<circle cx="123.5" cy="111.8" r="1.15"/>
<circle cx="122.2" cy="112.2" r="1.15"/>
<circle cx="118.7" cy="140.4" r="1.15"/>
<circle cx="116.0" cy="129.5" r="1.15"/>
<circle cx="119.0" cy="102.5" r="1.15"/>
<circle cx="121.6" cy="105.4" r="1.15"/>
<circle cx="116.3" cy="111.4" r="1.15"/>
<circle cx="120.6" cy="124.6" r="1.15"/>
<circle cx="122.8" cy="122.2" r="1.15"/>
<circle cx="118.9" cy="104.7" r="1.15"/>
<circle cx="118.8" cy="90.2" r="1.15"/>
<circle cx="118.7" cy="100.7" r="1.15"/>
<circle cx="122.8" cy="93.8" r="1.15"/>
<circle cx="119.2" cy="131.9" r="1.15"/>
<circle cx="114.5" cy="102.8" r="1.15"/>
<circle cx="119.1" cy="119.9" r="1.15"/>
<circle cx="118.1" cy="150.8" r="1.15"/>
<circle cx="118.8" cy="75.3" r="1.15"/>
<circle cx="119.2" cy="140.4" r="1.15"/>
<circle cx="119.2" cy="113.9" r="1.15"/>
<circle cx="118.8" cy="130.3" r="1.15"/>
<circle cx="119.1" cy="120.4" r="1.15"/>
<circle cx="119.0" cy="119.9" r="1.15"/>
<circle cx="119.1" cy="139.3" r="1.15"/>
<circle cx="115.3" cy="126.6" r="1.15"/>
<circle cx="119.1" cy="112.2" r="1.15"/>
<circle cx="117.1" cy="141.5" r="1.15"/>
<circle cx="121.4" cy="133.6" r="1.15"/>
<circle cx="116.6" cy="109.8" r="1.15"/>
<circle cx="119.1" cy="102.5" r="1.15"/>
<circle cx="116.8" cy="113.5" r="1.15"/>
<circle cx="116.6" cy="104.1" r="1.15"/>
<circle cx="123.9" cy="131.9" r="1.15"/>
<circle cx="114.3" cy="93.2" r="1.15"/>
<circle cx="118.9" cy="134.5" r="1.15"/>
<circle cx="119.3" cy="135.4" r="1.15"/>
<circle cx="120.0" cy="145.2" r="1.15"/>
<circle cx="123.7" cy="116.3" r="1.15"/>
<circle cx="118.8" cy="113.5" r="1.15"/>
<circle cx="121.5" cy="131.1" r="1.15"/>
<circle cx="119.2" cy="117.8" r="1.15"/>
<circle cx="119.3" cy="129.5" r="1.15"/>
<circle cx="121.7" cy="101.6" r="1.15"/>
<circle cx="119.0" cy="96.0" r="1.15"/>
<circle cx="118.7" cy="145.2" r="1.15"/>
<circle cx="118.9" cy="105.4" r="1.15"/>
<circle cx="119.8" cy="122.2" r="1.15"/>
<circle cx="120.9" cy="145.2" r="1.15"/>
<circle cx="119.1" cy="134.5" r="1.15"/>
<circle cx="114.5" cy="95.2" r="1.15"/>
<circle cx="117.8" cy="126.0" r="1.15"/>
<circle cx="116.5" cy="78.3" r="1.15"/>
<circle cx="119.2" cy="131.9" r="1.15"/>
<circle cx="120.1" cy="104.7" r="1.15"/>
<circle cx="121.3" cy="142.7" r="1.15"/>
<circle cx="117.9" cy="101.3" r="1.15"/>
<circle cx="118.9" cy="131.1" r="1.15"/>
<circle cx="119.4" cy="96.2" r="1.15"/>
<circle cx="117.5" cy="121.0" r="1.15"/>
<circle cx="119.1" cy="120.4" r="1.15"/>
<circle cx="122.7" cy="74.5" r="1.15"/>
<circle cx="121.5" cy="106.8" r="1.15"/>
<circle cx="119.7" cy="92.7" r="1.15"/>
<circle cx="143.1" cy="119.3" r="1.15"/>
<circle cx="143.2" cy="143.9" r="1.15"/>
<circle cx="145.9" cy="137.3" r="1.15"/>
<circle cx="141.5" cy="107.1" r="1.15"/>
<circle cx="143.2" cy="106.1" r="1.15"/>
<circle cx="141.8" cy="118.3" r="1.15"/>
<circle cx="143.4" cy="117.8" r="1.15"/>
<circle cx="143.7" cy="137.3" r="1.15"/>
<circle cx="147.6" cy="79.8" r="1.15"/>
<circle cx="142.5" cy="81.8" r="1.15"/>
<circle cx="144.8" cy="109.8" r="1.15"/>
<circle cx="141.1" cy="126.6" r="1.15"/>
<circle cx="142.8" cy="113.5" r="1.15"/>
<circle cx="143.1" cy="130.3" r="1.15"/>
<circle cx="139.5" cy="102.2" r="1.15"/>
<circle cx="142.6" cy="103.5" r="1.15"/>
<circle cx="142.8" cy="76.1" r="1.15"/>
<circle cx="143.0" cy="108.2" r="1.15"/>
<circle cx="143.3" cy="105.4" r="1.15"/>
<circle cx="142.9" cy="136.3" r="1.15"/>
<circle cx="147.0" cy="134.5" r="1.15"/>
<circle cx="145.3" cy="116.3" r="1.15"/>
<circle cx="145.7" cy="142.7" r="1.15"/>
<circle cx="142.8" cy="134.5" r="1.15"/>
<circle cx="142.8" cy="122.2" r="1.15"/>
<circle cx="139.6" cy="115.3" r="1.15"/>
<circle cx="140.7" cy="86.6" r="1.15"/>
<circle cx="147.5" cy="118.8" r="1.15"/>
<circle cx="144.4" cy="98.8" r="1.15"/>
<circle cx="142.9" cy="98.0" r="1.15"/>
<circle cx="142.9" cy="131.9" r="1.15"/>
<circle cx="143.4" cy="154.1" r="1.15"/>
<circle cx="143.4" cy="100.7" r="1.15"/>
<circle cx="145.2" cy="118.3" r="1.15"/>
<circle cx="140.0" cy="111.8" r="1.15"/>
<circle cx="143.3" cy="142.7" r="1.15"/>
<circle cx="140.7" cy="96.5" r="1.15"/>
<circle cx="143.2" cy="154.1" r="1.15"/>
<circle cx="142.9" cy="111.8" r="1.15"/>
<circle cx="142.5" cy="138.3" r="1.15"/>
<circle cx="142.7" cy="101.3" r="1.15"/>
<circle cx="142.6" cy="107.9" r="1.15"/>
<circle cx="143.0" cy="124.0" r="1.15"/>
<circle cx="138.4" cy="107.5" r="1.15"/>
<circle cx="142.8" cy="142.7" r="1.15"/>
<circle cx="142.4" cy="146.5" r="1.15"/>
<circle cx="146.0" cy="102.8" r="1.15"/>
<circle cx="142.8" cy="106.1" r="1.15"/>
<circle cx="145.3" cy="108.6" r="1.15"/>
<circle cx="147.0" cy="100.5" r="1.15"/>
<circle cx="139.4" cy="117.3" r="1.15"/>
<circle cx="142.4" cy="97.0" r="1.15"/>
<circle cx="146.7" cy="99.3" r="1.15"/>
<circle cx="138.8" cy="112.6" r="1.15"/>
<circle cx="145.4" cy="140.4" r="1.15"/>
<circle cx="143.2" cy="110.9" r="1.15"/>
<circle cx="139.0" cy="110.5" r="1.15"/>
<circle cx="146.6" cy="116.3" r="1.15"/>
<circle cx="143.3" cy="97.0" r="1.15"/>
<circle cx="142.6" cy="140.4" r="1.15"/>
<circle cx="145.5" cy="134.5" r="1.15"/>
<circle cx="141.4" cy="104.7" r="1.15"/>
<circle cx="143.1" cy="131.1" r="1.15"/>
<circle cx="140.0" cy="101.9" r="1.15"/>
<circle cx="145.3" cy="97.0" r="1.15"/>
<circle cx="142.8" cy="135.4" r="1.15"/>
<circle cx="143.2" cy="130.3" r="1.15"/>
<circle cx="139.3" cy="117.8" r="1.15"/>
<circle cx="143.2" cy="126.0" r="1.15"/>
<circle cx="143.0" cy="132.7" r="1.15"/>
<circle cx="143.0" cy="113.1" r="1.15"/>
<circle cx="145.3" cy="147.9" r="1.15"/>
<circle cx="141.3" cy="101.3" r="1.15"/>
<circle cx="140.3" cy="115.3" r="1.15"/>
<circle cx="144.7" cy="111.8" r="1.15"/>
<circle cx="147.9" cy="99.6" r="1.15"/>
<circle cx="147.7" cy="101.3" r="1.15"/>
<circle cx="142.4" cy="147.9" r="1.15"/>
<circle cx="139.1" cy="128.0" r="1.15"/>
<circle cx="147.2" cy="135.4" r="1.15"/>
<circle cx="141.4" cy="107.5" r="1.15"/>
<circle cx="144.5" cy="109.0" r="1.15"/>
<circle cx="141.4" cy="154.1" r="1.15"/>
<circle cx="142.6" cy="142.7" r="1.15"/>
<circle cx="142.8" cy="113.9" r="1.15"/>
<circle cx="142.9" cy="104.4" r="1.15"/>
<circle cx="141.7" cy="107.5" r="1.15"/>
<circle cx="147.2" cy="123.4" r="1.15"/>
<circle cx="145.2" cy="128.8" r="1.15"/>
<circle cx="143.1" cy="145.2" r="1.15"/>
<circle cx="143.4" cy="116.3" r="1.15"/>
<circle cx="142.9" cy="135.4" r="1.15"/>
<circle cx="142.9" cy="106.8" r="1.15"/>
<circle cx="138.4" cy="126.6" r="1.15"/>
<circle cx="143.2" cy="99.1" r="1.15"/>
<circle cx="170.1" cy="101.3" r="1.15"/>
<circle cx="163.5" cy="146.5" r="1.15"/>
<circle cx="168.1" cy="97.5" r="1.15"/>
<circle cx="167.9" cy="146.5" r="1.15"/>
<circle cx="165.0" cy="152.4" r="1.15"/>
<circle cx="171.6" cy="128.8" r="1.15"/>
<circle cx="173.0" cy="101.9" r="1.15"/>
<circle cx="165.7" cy="104.7" r="1.15"/>
<circle cx="173.8" cy="99.6" r="1.15"/>
<circle cx="172.5" cy="143.9" r="1.15"/>
<circle cx="166.5" cy="100.2" r="1.15"/>
<circle cx="170.0" cy="106.8" r="1.15"/>
<circle cx="165.4" cy="140.4" r="1.15"/>
<circle cx="166.6" cy="123.4" r="1.15"/>
<circle cx="168.4" cy="137.3" r="1.15"/>
<circle cx="167.9" cy="134.5" r="1.15"/>
<circle cx="162.8" cy="102.5" r="1.15"/>
<circle cx="171.1" cy="111.4" r="1.15"/>
<circle cx="168.3" cy="131.1" r="1.15"/>
<circle cx="166.6" cy="129.5" r="1.15"/>
<circle cx="167.7" cy="140.4" r="1.15"/>
<circle cx="172.3" cy="143.9" r="1.15"/>
<circle cx="166.0" cy="101.0" r="1.15"/>
<circle cx="163.9" cy="136.3" r="1.15"/>
<circle cx="171.8" cy="146.5" r="1.15"/>
<circle cx="169.8" cy="117.8" r="1.15"/>
<circle cx="169.5" cy="141.5" r="1.15"/>
<circle cx="167.6" cy="146.5" r="1.15"/>
<circle cx="167.5" cy="138.3" r="1.15"/>
<circle cx="168.7" cy="116.8" r="1.15"/>
<circle cx="174.0" cy="140.4" r="1.15"/>
<circle cx="165.6" cy="111.4" r="1.15"/>
<circle cx="173.2" cy="98.3" r="1.15"/>
<circle cx="167.6" cy="116.3" r="1.15"/>
<circle cx="170.5" cy="109.4" r="1.15"/>
<circle cx="170.5" cy="110.5" r="1.15"/>
<circle cx="168.0" cy="107.5" r="1.15"/>
<circle cx="171.0" cy="114.4" r="1.15"/>
<circle cx="170.0" cy="97.0" r="1.15"/>
<circle cx="163.0" cy="98.8" r="1.15"/>
<circle cx="168.1" cy="99.9" r="1.15"/>
<circle cx="169.8" cy="115.3" r="1.15"/>
<circle cx="171.5" cy="136.3" r="1.15"/>
<circle cx="168.2" cy="142.7" r="1.15"/>
<circle cx="162.1" cy="116.8" r="1.15"/>
<circle cx="163.3" cy="120.4" r="1.15"/>
<circle cx="165.9" cy="114.4" r="1.15"/>
<circle cx="167.7" cy="137.3" r="1.15"/>
<circle cx="172.5" cy="132.7" r="1.15"/>
<circle cx="167.9" cy="111.8" r="1.15"/>
<circle cx="199.2" cy="124.6" r="1.15"/>
<circle cx="196.4" cy="103.8" r="1.15"/>
<circle cx="205.2" cy="127.3" r="1.15"/>
<circle cx="203.0" cy="109.8" r="1.15"/>
<circle cx="201.3" cy="111.8" r="1.15"/>
<circle cx="204.3" cy="128.8" r="1.15"/>
<circle cx="204.8" cy="116.3" r="1.15"/>
<circle cx="200.7" cy="115.8" r="1.15"/>
<circle cx="199.8" cy="134.5" r="1.15"/>
<circle cx="201.6" cy="124.6" r="1.15"/>
<circle cx="200.6" cy="104.4" r="1.15"/>
<circle cx="198.8" cy="106.8" r="1.15"/>
<circle cx="196.6" cy="126.6" r="1.15"/>
<circle cx="200.9" cy="118.3" r="1.15"/>
<circle cx="205.3" cy="118.3" r="1.15"/>
<circle cx="200.0" cy="119.3" r="1.15"/>
<circle cx="198.2" cy="89.4" r="1.15"/>
<circle cx="201.1" cy="122.2" r="1.15"/>
<circle cx="200.2" cy="131.1" r="1.15"/>
<circle cx="195.2" cy="104.4" r="1.15"/>
<circle cx="204.1" cy="124.0" r="1.15"/>
<circle cx="201.4" cy="141.5" r="1.15"/>
<circle cx="202.6" cy="129.5" r="1.15"/>
<circle cx="202.6" cy="149.3" r="1.15"/>
<circle cx="206.3" cy="115.3" r="1.15"/>
<circle cx="200.8" cy="130.3" r="1.15"/>
<circle cx="200.9" cy="141.5" r="1.15"/>
<circle cx="204.9" cy="131.1" r="1.15"/>
<circle cx="201.3" cy="139.3" r="1.15"/>
<circle cx="200.5" cy="142.7" r="1.15"/>
<circle cx="202.4" cy="109.8" r="1.15"/>
<circle cx="201.3" cy="115.3" r="1.15"/>
<circle cx="201.0" cy="115.8" r="1.15"/>
<circle cx="199.4" cy="87.1" r="1.15"/>
<circle cx="200.8" cy="138.3" r="1.15"/>
<circle cx="216.7" cy="104.7" r="1.15"/>
<circle cx="237.4" cy="119.9" r="1.15"/>
<circle cx="220.2" cy="120.4" r="1.15"/>
<circle cx="242.8" cy="119.3" r="1.15"/>
<circle cx="212.6" cy="108.6" r="1.15"/>
<circle cx="211.5" cy="128.8" r="1.15"/>
<circle cx="219.5" cy="131.1" r="1.15"/>
<circle cx="230.9" cy="112.6" r="1.15"/>
<circle cx="214.5" cy="110.1" r="1.15"/>
<circle cx="233.4" cy="110.9" r="1.15"/>
<circle cx="226.7" cy="136.3" r="1.15"/>
<circle cx="210.1" cy="131.9" r="1.15"/>
<circle cx="231.5" cy="121.6" r="1.15"/>
<circle cx="228.5" cy="147.9" r="1.15"/>
<circle cx="242.7" cy="114.8" r="1.15"/>
<circle cx="241.5" cy="139.3" r="1.15"/>
<circle cx="239.3" cy="150.8" r="1.15"/>
<circle cx="216.7" cy="128.0" r="1.15"/>
<circle cx="222.4" cy="110.1" r="1.15"/>
<circle cx="233.1" cy="107.9" r="1.15"/>
<circle cx="210.4" cy="122.8" r="1.15"/>
<circle cx="207.8" cy="135.4" r="1.15"/>
<circle cx="226.9" cy="138.3" r="1.15"/>
<circle cx="225.3" cy="107.9" r="1.15"/>
<circle cx="224.9" cy="139.3" r="1.15"/>
</g>
<g fill="none" stroke-linejoin="round">
<polyline points="72.8,83.6 95.0,92.9 119.0,92.6 143.0,94.1 168.0,92.6 201.0,94.9" stroke="#2e2e2e" stroke-width="1.3" stroke-dasharray="2.7 3.7"/>
<polyline points="72.8,140.9 95.0,148.2 119.0,149.3 143.0,149.0 168.0,150.5 201.0,150.2" stroke="#2e2e2e" stroke-width="1.3" stroke-dasharray="2.7 3.7"/>
<polyline points="72.8,110.5 95.0,122.9 119.0,125.6 143.0,126.8 168.0,127.6 201.0,129.9" stroke="#9e1c1f" stroke-width="1.8" stroke-dasharray="4.6 5.2"/>
<polyline points="72.8,83.6 95.0,92.9 119.0,92.6 143.0,96.5 168.0,97.5 205.0,101.9" stroke="#2d4bab" stroke-width="1.2"/>
<polyline points="72.8,140.9 95.0,143.8 119.0,145.5 143.0,143.5 168.0,146.2 205.0,142.8" stroke="#2d4bab" stroke-width="1.2"/>
<polyline points="72.8,110.5 95.0,116.7 119.0,117.5 143.0,118.3 168.0,118.0 205.0,122.9" stroke="#9e1c1f" stroke-width="1.7"/>
</g>
<g clip-path="url(#cLIVER)" fill="#555555" fill-opacity="0.33">
<circle cx="315.7" cy="105.2" r="1.2" fill-opacity="0.42"/>
<circle cx="315.7" cy="134.2" r="1.2" fill-opacity="0.42"/>
<circle cx="315.7" cy="67.0" r="1.2" fill-opacity="0.42"/>
<circle cx="315.7" cy="73.7" r="1.2" fill-opacity="0.42"/>
<circle cx="315.7" cy="114.2" r="1.2" fill-opacity="0.42"/>
<circle cx="315.7" cy="97.6" r="1.2" fill-opacity="0.42"/>
<circle cx="315.7" cy="134.2" r="1.2" fill-opacity="0.42"/>
<circle cx="315.7" cy="131.2" r="1.2" fill-opacity="0.42"/>
<circle cx="315.7" cy="128.3" r="1.2" fill-opacity="0.42"/>
<circle cx="315.7" cy="95.0" r="1.2" fill-opacity="0.42"/>
<circle cx="315.7" cy="134.2" r="1.2" fill-opacity="0.42"/>
<circle cx="315.7" cy="65.6" r="1.2" fill-opacity="0.42"/>
<circle cx="315.7" cy="144.9" r="1.2" fill-opacity="0.42"/>
<circle cx="315.7" cy="134.2" r="1.2" fill-opacity="0.42"/>
<circle cx="315.7" cy="141.0" r="1.2" fill-opacity="0.42"/>
<circle cx="315.7" cy="87.8" r="1.2" fill-opacity="0.42"/>
<circle cx="315.7" cy="120.7" r="1.2" fill-opacity="0.42"/>
<circle cx="315.7" cy="114.2" r="1.2" fill-opacity="0.42"/>
<circle cx="315.7" cy="125.6" r="1.2" fill-opacity="0.42"/>
<circle cx="315.7" cy="99.1" r="1.2" fill-opacity="0.42"/>
<circle cx="315.7" cy="118.4" r="1.2" fill-opacity="0.42"/>
<circle cx="315.7" cy="134.2" r="1.2" fill-opacity="0.42"/>
<circle cx="315.7" cy="116.3" r="1.2" fill-opacity="0.42"/>
<circle cx="315.7" cy="125.6" r="1.2" fill-opacity="0.42"/>
<circle cx="315.7" cy="141.0" r="1.2" fill-opacity="0.42"/>
<circle cx="315.7" cy="82.6" r="1.2" fill-opacity="0.42"/>
<circle cx="315.7" cy="96.3" r="1.2" fill-opacity="0.42"/>
<circle cx="315.7" cy="97.6" r="1.2" fill-opacity="0.42"/>
<circle cx="315.7" cy="77.0" r="1.2" fill-opacity="0.42"/>
<circle cx="315.7" cy="120.7" r="1.2" fill-opacity="0.42"/>
<circle cx="315.7" cy="120.7" r="1.2" fill-opacity="0.42"/>
<circle cx="315.7" cy="118.4" r="1.2" fill-opacity="0.42"/>
<circle cx="315.7" cy="118.4" r="1.2" fill-opacity="0.42"/>
<circle cx="315.7" cy="96.3" r="1.2" fill-opacity="0.42"/>
<circle cx="315.7" cy="144.9" r="1.2" fill-opacity="0.42"/>
<circle cx="315.7" cy="114.2" r="1.2" fill-opacity="0.42"/>
<circle cx="315.7" cy="108.6" r="1.2" fill-opacity="0.42"/>
<circle cx="315.7" cy="123.1" r="1.2" fill-opacity="0.42"/>
<circle cx="315.7" cy="144.9" r="1.2" fill-opacity="0.42"/>
<circle cx="315.7" cy="93.7" r="1.2" fill-opacity="0.42"/>
<circle cx="315.7" cy="144.9" r="1.2" fill-opacity="0.42"/>
<circle cx="315.7" cy="106.8" r="1.2" fill-opacity="0.42"/>
<circle cx="315.7" cy="137.5" r="1.2" fill-opacity="0.42"/>
<circle cx="315.7" cy="144.9" r="1.2" fill-opacity="0.42"/>
<circle cx="315.7" cy="134.2" r="1.2" fill-opacity="0.42"/>
<circle cx="315.7" cy="144.9" r="1.2" fill-opacity="0.42"/>
<circle cx="315.7" cy="137.5" r="1.2" fill-opacity="0.42"/>
<circle cx="315.7" cy="95.0" r="1.2" fill-opacity="0.42"/>
<circle cx="315.7" cy="91.2" r="1.2" fill-opacity="0.42"/>
<circle cx="315.7" cy="123.1" r="1.2" fill-opacity="0.42"/>
<circle cx="315.7" cy="97.6" r="1.2" fill-opacity="0.42"/>
<circle cx="315.7" cy="114.2" r="1.2" fill-opacity="0.42"/>
<circle cx="315.7" cy="112.3" r="1.2" fill-opacity="0.42"/>
<circle cx="315.7" cy="77.9" r="1.2" fill-opacity="0.42"/>
<circle cx="315.7" cy="125.6" r="1.2" fill-opacity="0.42"/>
<circle cx="315.7" cy="78.8" r="1.2" fill-opacity="0.42"/>
<circle cx="315.7" cy="95.0" r="1.2" fill-opacity="0.42"/>
<circle cx="315.7" cy="95.0" r="1.2" fill-opacity="0.42"/>
<circle cx="315.7" cy="144.9" r="1.2" fill-opacity="0.42"/>
<circle cx="315.7" cy="141.0" r="1.2" fill-opacity="0.42"/>
<circle cx="315.7" cy="144.9" r="1.2" fill-opacity="0.42"/>
<circle cx="315.7" cy="123.1" r="1.2" fill-opacity="0.42"/>
<circle cx="315.7" cy="71.3" r="1.2" fill-opacity="0.42"/>
<circle cx="315.7" cy="77.9" r="1.2" fill-opacity="0.42"/>
<circle cx="315.7" cy="81.6" r="1.2" fill-opacity="0.42"/>
<circle cx="315.7" cy="141.0" r="1.2" fill-opacity="0.42"/>
<circle cx="315.7" cy="93.7" r="1.2" fill-opacity="0.42"/>
<circle cx="315.7" cy="86.7" r="1.2" fill-opacity="0.42"/>
<circle cx="315.7" cy="83.6" r="1.2" fill-opacity="0.42"/>
<circle cx="315.7" cy="85.6" r="1.2" fill-opacity="0.42"/>
<circle cx="315.7" cy="137.5" r="1.2" fill-opacity="0.42"/>
<circle cx="315.7" cy="134.2" r="1.2" fill-opacity="0.42"/>
<circle cx="315.7" cy="85.6" r="1.2" fill-opacity="0.42"/>
<circle cx="315.7" cy="90.0" r="1.2" fill-opacity="0.42"/>
<circle cx="315.7" cy="76.2" r="1.2" fill-opacity="0.42"/>
<circle cx="315.7" cy="116.3" r="1.2" fill-opacity="0.42"/>
<circle cx="315.7" cy="77.0" r="1.2" fill-opacity="0.42"/>
<circle cx="315.7" cy="137.5" r="1.2" fill-opacity="0.42"/>
<circle cx="315.7" cy="69.1" r="1.2" fill-opacity="0.42"/>
<circle cx="315.7" cy="77.0" r="1.2" fill-opacity="0.42"/>
<circle cx="315.7" cy="123.1" r="1.2" fill-opacity="0.42"/>
<circle cx="315.7" cy="144.9" r="1.2" fill-opacity="0.42"/>
<circle cx="315.7" cy="106.8" r="1.2" fill-opacity="0.42"/>
<circle cx="315.7" cy="95.0" r="1.2" fill-opacity="0.42"/>
<circle cx="315.7" cy="123.1" r="1.2" fill-opacity="0.42"/>
<circle cx="315.7" cy="144.9" r="1.2" fill-opacity="0.42"/>
<circle cx="315.7" cy="128.3" r="1.2" fill-opacity="0.42"/>
<circle cx="315.7" cy="82.6" r="1.2" fill-opacity="0.42"/>
<circle cx="315.7" cy="141.0" r="1.2" fill-opacity="0.42"/>
<circle cx="315.7" cy="72.1" r="1.2" fill-opacity="0.42"/>
<circle cx="315.7" cy="131.2" r="1.2" fill-opacity="0.42"/>
<circle cx="315.7" cy="134.2" r="1.2" fill-opacity="0.42"/>
<circle cx="315.7" cy="141.0" r="1.2" fill-opacity="0.42"/>
<circle cx="315.7" cy="63.0" r="1.2" fill-opacity="0.42"/>
<circle cx="315.7" cy="75.3" r="1.2" fill-opacity="0.42"/>
<circle cx="315.7" cy="125.6" r="1.2" fill-opacity="0.42"/>
<circle cx="315.7" cy="141.0" r="1.2" fill-opacity="0.42"/>
<circle cx="315.7" cy="97.6" r="1.2" fill-opacity="0.42"/>
<circle cx="315.7" cy="77.0" r="1.2" fill-opacity="0.42"/>
<circle cx="315.7" cy="144.9" r="1.2" fill-opacity="0.42"/>
<circle cx="315.7" cy="100.5" r="1.2" fill-opacity="0.42"/>
<circle cx="315.7" cy="79.7" r="1.2" fill-opacity="0.42"/>
<circle cx="315.7" cy="114.2" r="1.2" fill-opacity="0.42"/>
<circle cx="315.7" cy="105.2" r="1.2" fill-opacity="0.42"/>
<circle cx="315.7" cy="84.6" r="1.2" fill-opacity="0.42"/>
<circle cx="315.7" cy="131.2" r="1.2" fill-opacity="0.42"/>
<circle cx="315.7" cy="128.3" r="1.2" fill-opacity="0.42"/>
<circle cx="315.7" cy="97.6" r="1.2" fill-opacity="0.42"/>
<circle cx="315.7" cy="106.8" r="1.2" fill-opacity="0.42"/>
<circle cx="315.7" cy="108.6" r="1.2" fill-opacity="0.42"/>
<circle cx="315.7" cy="123.1" r="1.2" fill-opacity="0.42"/>
<circle cx="315.7" cy="72.1" r="1.2" fill-opacity="0.42"/>
<circle cx="315.7" cy="128.3" r="1.2" fill-opacity="0.42"/>
<circle cx="315.7" cy="96.3" r="1.2" fill-opacity="0.42"/>
<circle cx="315.7" cy="76.2" r="1.2" fill-opacity="0.42"/>
<circle cx="315.7" cy="118.4" r="1.2" fill-opacity="0.42"/>
<circle cx="315.7" cy="144.9" r="1.2" fill-opacity="0.42"/>
<circle cx="315.7" cy="131.2" r="1.2" fill-opacity="0.42"/>
<circle cx="315.7" cy="144.9" r="1.2" fill-opacity="0.42"/>
<circle cx="315.7" cy="137.5" r="1.2" fill-opacity="0.42"/>
<circle cx="315.7" cy="141.0" r="1.2" fill-opacity="0.42"/>
<circle cx="315.7" cy="123.1" r="1.2" fill-opacity="0.42"/>
<circle cx="315.7" cy="120.7" r="1.2" fill-opacity="0.42"/>
<circle cx="315.7" cy="116.3" r="1.2" fill-opacity="0.42"/>
<circle cx="315.7" cy="97.6" r="1.2" fill-opacity="0.42"/>
<circle cx="315.7" cy="96.3" r="1.2" fill-opacity="0.42"/>
<circle cx="315.7" cy="95.0" r="1.2" fill-opacity="0.42"/>
<circle cx="315.7" cy="123.1" r="1.2" fill-opacity="0.42"/>
<circle cx="315.7" cy="97.6" r="1.2" fill-opacity="0.42"/>
<circle cx="315.7" cy="106.8" r="1.2" fill-opacity="0.42"/>
<circle cx="315.7" cy="137.5" r="1.2" fill-opacity="0.42"/>
<circle cx="315.7" cy="108.6" r="1.2" fill-opacity="0.42"/>
<circle cx="315.7" cy="125.6" r="1.2" fill-opacity="0.42"/>
<circle cx="315.7" cy="96.3" r="1.2" fill-opacity="0.42"/>
<circle cx="315.7" cy="91.2" r="1.2" fill-opacity="0.42"/>
<circle cx="315.7" cy="131.2" r="1.2" fill-opacity="0.42"/>
<circle cx="315.7" cy="116.3" r="1.2" fill-opacity="0.42"/>
<circle cx="315.7" cy="116.3" r="1.2" fill-opacity="0.42"/>
<circle cx="315.7" cy="125.6" r="1.2" fill-opacity="0.42"/>
<circle cx="315.7" cy="144.9" r="1.2" fill-opacity="0.42"/>
<circle cx="315.7" cy="144.9" r="1.2" fill-opacity="0.42"/>
<circle cx="315.7" cy="54.4" r="1.2" fill-opacity="0.42"/>
<circle cx="315.7" cy="90.0" r="1.2" fill-opacity="0.42"/>
<circle cx="315.7" cy="116.3" r="1.2" fill-opacity="0.42"/>
<circle cx="315.7" cy="96.3" r="1.2" fill-opacity="0.42"/>
<circle cx="315.7" cy="128.3" r="1.2" fill-opacity="0.42"/>
<circle cx="315.7" cy="92.4" r="1.2" fill-opacity="0.42"/>
<circle cx="315.7" cy="71.3" r="1.2" fill-opacity="0.42"/>
<circle cx="315.7" cy="87.8" r="1.2" fill-opacity="0.42"/>
<circle cx="315.7" cy="114.2" r="1.2" fill-opacity="0.42"/>
<circle cx="315.7" cy="62.4" r="1.2" fill-opacity="0.42"/>
<circle cx="315.7" cy="73.7" r="1.2" fill-opacity="0.42"/>
<circle cx="315.7" cy="144.9" r="1.2" fill-opacity="0.42"/>
<circle cx="315.7" cy="118.4" r="1.2" fill-opacity="0.42"/>
<circle cx="315.7" cy="116.3" r="1.2" fill-opacity="0.42"/>
<circle cx="315.7" cy="128.3" r="1.2" fill-opacity="0.42"/>
<circle cx="315.7" cy="102.0" r="1.2" fill-opacity="0.42"/>
<circle cx="315.7" cy="137.5" r="1.2" fill-opacity="0.42"/>
<circle cx="315.7" cy="90.0" r="1.2" fill-opacity="0.42"/>
<circle cx="315.7" cy="79.7" r="1.2" fill-opacity="0.42"/>
<circle cx="315.7" cy="144.9" r="1.2" fill-opacity="0.42"/>
<circle cx="315.7" cy="95.0" r="1.2" fill-opacity="0.42"/>
<circle cx="315.7" cy="128.3" r="1.2" fill-opacity="0.42"/>
<circle cx="315.7" cy="99.1" r="1.2" fill-opacity="0.42"/>
<circle cx="315.7" cy="95.0" r="1.2" fill-opacity="0.42"/>
<circle cx="315.7" cy="64.3" r="1.2" fill-opacity="0.42"/>
<circle cx="315.7" cy="84.6" r="1.2" fill-opacity="0.42"/>
<circle cx="315.7" cy="123.1" r="1.2" fill-opacity="0.42"/>
<circle cx="315.7" cy="91.2" r="1.2" fill-opacity="0.42"/>
<circle cx="315.7" cy="137.5" r="1.2" fill-opacity="0.42"/>
<circle cx="336.8" cy="141.0" r="1.15"/>
<circle cx="337.8" cy="97.6" r="1.15"/>
<circle cx="337.8" cy="144.9" r="1.15"/>
<circle cx="338.2" cy="116.3" r="1.15"/>
<circle cx="343.6" cy="128.3" r="1.15"/>
<circle cx="337.8" cy="123.1" r="1.15"/>
<circle cx="343.9" cy="123.1" r="1.15"/>
<circle cx="338.1" cy="85.6" r="1.15"/>
<circle cx="344.0" cy="87.8" r="1.15"/>
<circle cx="337.7" cy="149.1" r="1.15"/>
<circle cx="337.6" cy="114.2" r="1.15"/>
<circle cx="344.9" cy="114.2" r="1.15"/>
<circle cx="336.6" cy="149.1" r="1.15"/>
<circle cx="337.8" cy="120.7" r="1.15"/>
<circle cx="335.2" cy="141.0" r="1.15"/>
<circle cx="336.4" cy="118.4" r="1.15"/>
<circle cx="338.3" cy="86.7" r="1.15"/>
<circle cx="344.1" cy="134.2" r="1.15"/>
<circle cx="337.8" cy="88.9" r="1.15"/>
<circle cx="333.8" cy="149.1" r="1.15"/>
<circle cx="338.0" cy="86.7" r="1.15"/>
<circle cx="341.6" cy="102.0" r="1.15"/>
<circle cx="338.2" cy="141.0" r="1.15"/>
<circle cx="331.5" cy="88.9" r="1.15"/>
<circle cx="338.1" cy="110.4" r="1.15"/>
<circle cx="340.6" cy="134.2" r="1.15"/>
<circle cx="344.1" cy="114.2" r="1.15"/>
<circle cx="342.9" cy="153.8" r="1.15"/>
<circle cx="332.3" cy="110.4" r="1.15"/>
<circle cx="343.0" cy="153.8" r="1.15"/>
<circle cx="331.6" cy="153.8" r="1.15"/>
<circle cx="337.7" cy="75.3" r="1.15"/>
<circle cx="343.8" cy="144.9" r="1.15"/>
<circle cx="342.1" cy="103.6" r="1.15"/>
<circle cx="344.6" cy="103.6" r="1.15"/>
<circle cx="335.0" cy="131.2" r="1.15"/>
<circle cx="338.2" cy="125.6" r="1.15"/>
<circle cx="336.9" cy="92.4" r="1.15"/>
<circle cx="338.0" cy="105.2" r="1.15"/>
<circle cx="338.2" cy="137.5" r="1.15"/>
<circle cx="339.7" cy="149.1" r="1.15"/>
<circle cx="334.4" cy="149.1" r="1.15"/>
<circle cx="331.9" cy="149.1" r="1.15"/>
<circle cx="332.4" cy="120.7" r="1.15"/>
<circle cx="337.4" cy="96.3" r="1.15"/>
<circle cx="333.3" cy="153.8" r="1.15"/>
<circle cx="343.1" cy="92.4" r="1.15"/>
<circle cx="338.1" cy="82.6" r="1.15"/>
<circle cx="341.7" cy="87.8" r="1.15"/>
<circle cx="338.2" cy="116.3" r="1.15"/>
<circle cx="337.8" cy="105.2" r="1.15"/>
<circle cx="338.9" cy="137.5" r="1.15"/>
<circle cx="343.3" cy="77.0" r="1.15"/>
<circle cx="341.2" cy="153.8" r="1.15"/>
<circle cx="338.0" cy="95.0" r="1.15"/>
<circle cx="337.7" cy="123.1" r="1.15"/>
<circle cx="333.0" cy="144.9" r="1.15"/>
<circle cx="342.1" cy="144.9" r="1.15"/>
<circle cx="332.0" cy="141.0" r="1.15"/>
<circle cx="331.1" cy="137.5" r="1.15"/>
<circle cx="337.8" cy="90.0" r="1.15"/>
<circle cx="338.2" cy="87.8" r="1.15"/>
<circle cx="338.3" cy="137.5" r="1.15"/>
<circle cx="339.1" cy="134.2" r="1.15"/>
<circle cx="340.7" cy="137.5" r="1.15"/>
<circle cx="335.1" cy="137.5" r="1.15"/>
<circle cx="344.7" cy="144.9" r="1.15"/>
<circle cx="341.0" cy="164.9" r="1.15"/>
<circle cx="337.9" cy="90.0" r="1.15"/>
<circle cx="334.5" cy="128.3" r="1.15"/>
<circle cx="333.9" cy="149.1" r="1.15"/>
<circle cx="340.5" cy="91.2" r="1.15"/>
<circle cx="331.2" cy="144.9" r="1.15"/>
<circle cx="338.1" cy="131.2" r="1.15"/>
<circle cx="339.6" cy="114.2" r="1.15"/>
<circle cx="333.9" cy="88.9" r="1.15"/>
<circle cx="342.5" cy="99.1" r="1.15"/>
<circle cx="337.6" cy="134.2" r="1.15"/>
<circle cx="333.8" cy="91.2" r="1.15"/>
<circle cx="340.8" cy="125.6" r="1.15"/>
<circle cx="338.2" cy="144.9" r="1.15"/>
<circle cx="341.6" cy="112.3" r="1.15"/>
<circle cx="338.3" cy="137.5" r="1.15"/>
<circle cx="337.1" cy="106.8" r="1.15"/>
<circle cx="338.1" cy="125.6" r="1.15"/>
<circle cx="336.1" cy="118.4" r="1.15"/>
<circle cx="331.8" cy="97.6" r="1.15"/>
<circle cx="335.2" cy="137.5" r="1.15"/>
<circle cx="338.3" cy="144.9" r="1.15"/>
<circle cx="338.2" cy="137.5" r="1.15"/>
<circle cx="339.1" cy="90.0" r="1.15"/>
<circle cx="338.2" cy="159.0" r="1.15"/>
<circle cx="337.9" cy="137.5" r="1.15"/>
<circle cx="339.0" cy="102.0" r="1.15"/>
<circle cx="338.1" cy="99.1" r="1.15"/>
<circle cx="338.4" cy="159.0" r="1.15"/>
<circle cx="342.6" cy="141.0" r="1.15"/>
<circle cx="333.4" cy="78.8" r="1.15"/>
<circle cx="332.1" cy="120.7" r="1.15"/>
<circle cx="337.6" cy="141.0" r="1.15"/>
<circle cx="338.4" cy="137.5" r="1.15"/>
<circle cx="332.2" cy="134.2" r="1.15"/>
<circle cx="338.3" cy="131.2" r="1.15"/>
<circle cx="335.7" cy="131.2" r="1.15"/>
<circle cx="334.6" cy="120.7" r="1.15"/>
<circle cx="332.0" cy="144.9" r="1.15"/>
<circle cx="338.0" cy="149.1" r="1.15"/>
<circle cx="333.3" cy="120.7" r="1.15"/>
<circle cx="341.5" cy="96.3" r="1.15"/>
<circle cx="337.5" cy="88.9" r="1.15"/>
<circle cx="335.7" cy="77.0" r="1.15"/>
<circle cx="333.2" cy="102.0" r="1.15"/>
<circle cx="339.6" cy="105.2" r="1.15"/>
<circle cx="342.7" cy="105.2" r="1.15"/>
<circle cx="338.4" cy="103.6" r="1.15"/>
<circle cx="337.6" cy="144.9" r="1.15"/>
<circle cx="341.1" cy="85.6" r="1.15"/>
<circle cx="333.9" cy="144.9" r="1.15"/>
<circle cx="337.9" cy="128.3" r="1.15"/>
<circle cx="342.5" cy="114.2" r="1.15"/>
<circle cx="343.1" cy="100.5" r="1.15"/>
<circle cx="336.7" cy="120.7" r="1.15"/>
<circle cx="340.4" cy="92.4" r="1.15"/>
<circle cx="334.6" cy="118.4" r="1.15"/>
<circle cx="332.7" cy="149.1" r="1.15"/>
<circle cx="344.2" cy="106.8" r="1.15"/>
<circle cx="338.3" cy="103.6" r="1.15"/>
<circle cx="331.1" cy="137.5" r="1.15"/>
<circle cx="337.8" cy="149.1" r="1.15"/>
<circle cx="339.6" cy="112.3" r="1.15"/>
<circle cx="338.8" cy="149.1" r="1.15"/>
<circle cx="343.2" cy="92.4" r="1.15"/>
<circle cx="334.4" cy="137.5" r="1.15"/>
<circle cx="338.2" cy="92.4" r="1.15"/>
<circle cx="339.4" cy="97.6" r="1.15"/>
<circle cx="332.7" cy="153.8" r="1.15"/>
<circle cx="344.6" cy="105.2" r="1.15"/>
<circle cx="336.5" cy="92.4" r="1.15"/>
<circle cx="331.8" cy="97.6" r="1.15"/>
<circle cx="338.2" cy="110.4" r="1.15"/>
<circle cx="337.9" cy="141.0" r="1.15"/>
<circle cx="341.9" cy="134.2" r="1.15"/>
<circle cx="337.9" cy="128.3" r="1.15"/>
<circle cx="344.3" cy="137.5" r="1.15"/>
<circle cx="338.1" cy="128.3" r="1.15"/>
<circle cx="340.3" cy="120.7" r="1.15"/>
<circle cx="333.7" cy="99.1" r="1.15"/>
<circle cx="338.0" cy="118.4" r="1.15"/>
<circle cx="332.6" cy="125.6" r="1.15"/>
<circle cx="334.9" cy="128.3" r="1.15"/>
<circle cx="333.9" cy="106.8" r="1.15"/>
<circle cx="344.3" cy="144.9" r="1.15"/>
<circle cx="337.9" cy="116.3" r="1.15"/>
<circle cx="339.3" cy="125.6" r="1.15"/>
<circle cx="344.5" cy="97.6" r="1.15"/>
<circle cx="341.7" cy="159.0" r="1.15"/>
<circle cx="340.8" cy="86.7" r="1.15"/>
<circle cx="341.0" cy="141.0" r="1.15"/>
<circle cx="333.5" cy="164.9" r="1.15"/>
<circle cx="340.3" cy="120.7" r="1.15"/>
<circle cx="340.6" cy="99.1" r="1.15"/>
<circle cx="331.9" cy="149.1" r="1.15"/>
<circle cx="332.9" cy="120.7" r="1.15"/>
<circle cx="333.5" cy="125.6" r="1.15"/>
<circle cx="337.6" cy="141.0" r="1.15"/>
<circle cx="340.6" cy="79.7" r="1.15"/>
<circle cx="338.0" cy="125.6" r="1.15"/>
<circle cx="333.1" cy="82.6" r="1.15"/>
<circle cx="339.1" cy="131.2" r="1.15"/>
<circle cx="343.3" cy="114.2" r="1.15"/>
<circle cx="344.3" cy="144.9" r="1.15"/>
<circle cx="340.4" cy="141.0" r="1.15"/>
<circle cx="343.1" cy="123.1" r="1.15"/>
<circle cx="332.3" cy="137.5" r="1.15"/>
<circle cx="344.2" cy="134.2" r="1.15"/>
<circle cx="339.1" cy="105.2" r="1.15"/>
<circle cx="332.9" cy="86.7" r="1.15"/>
<circle cx="332.7" cy="149.1" r="1.15"/>
<circle cx="338.9" cy="85.6" r="1.15"/>
<circle cx="338.7" cy="128.3" r="1.15"/>
<circle cx="344.7" cy="137.5" r="1.15"/>
<circle cx="332.7" cy="153.8" r="1.15"/>
<circle cx="337.9" cy="114.2" r="1.15"/>
<circle cx="341.5" cy="80.6" r="1.15"/>
<circle cx="343.0" cy="137.5" r="1.15"/>
<circle cx="338.6" cy="67.0" r="1.15"/>
<circle cx="331.8" cy="134.2" r="1.15"/>
<circle cx="340.6" cy="149.1" r="1.15"/>
<circle cx="333.3" cy="123.1" r="1.15"/>
<circle cx="335.5" cy="123.1" r="1.15"/>
<circle cx="339.6" cy="103.6" r="1.15"/>
<circle cx="344.0" cy="149.1" r="1.15"/>
<circle cx="337.7" cy="125.6" r="1.15"/>
<circle cx="333.8" cy="164.9" r="1.15"/>
<circle cx="331.8" cy="112.3" r="1.15"/>
<circle cx="334.5" cy="116.3" r="1.15"/>
<circle cx="337.1" cy="86.7" r="1.15"/>
<circle cx="338.1" cy="99.1" r="1.15"/>
<circle cx="342.6" cy="77.0" r="1.15"/>
<circle cx="337.7" cy="106.8" r="1.15"/>
<circle cx="364.0" cy="159.0" r="1.15"/>
<circle cx="362.1" cy="153.8" r="1.15"/>
<circle cx="362.4" cy="131.2" r="1.15"/>
<circle cx="367.4" cy="100.5" r="1.15"/>
<circle cx="357.7" cy="159.0" r="1.15"/>
<circle cx="362.0" cy="118.4" r="1.15"/>
<circle cx="362.0" cy="137.5" r="1.15"/>
<circle cx="358.8" cy="95.0" r="1.15"/>
<circle cx="369.0" cy="144.9" r="1.15"/>
<circle cx="361.8" cy="144.9" r="1.15"/>
<circle cx="369.2" cy="128.3" r="1.15"/>
<circle cx="361.6" cy="116.3" r="1.15"/>
<circle cx="354.2" cy="137.5" r="1.15"/>
<circle cx="364.0" cy="141.0" r="1.15"/>
<circle cx="369.7" cy="164.9" r="1.15"/>
<circle cx="362.1" cy="141.0" r="1.15"/>
<circle cx="362.2" cy="87.8" r="1.15"/>
<circle cx="369.4" cy="123.1" r="1.15"/>
<circle cx="362.2" cy="99.1" r="1.15"/>
<circle cx="362.0" cy="131.2" r="1.15"/>
<circle cx="367.5" cy="114.2" r="1.15"/>
<circle cx="361.7" cy="137.5" r="1.15"/>
<circle cx="361.9" cy="141.0" r="1.15"/>
<circle cx="361.7" cy="116.3" r="1.15"/>
<circle cx="357.5" cy="106.8" r="1.15"/>
<circle cx="354.2" cy="84.6" r="1.15"/>
<circle cx="362.0" cy="164.9" r="1.15"/>
<circle cx="359.7" cy="137.5" r="1.15"/>
<circle cx="369.5" cy="118.4" r="1.15"/>
<circle cx="367.3" cy="134.2" r="1.15"/>
<circle cx="361.1" cy="105.2" r="1.15"/>
<circle cx="361.7" cy="110.4" r="1.15"/>
<circle cx="359.8" cy="159.0" r="1.15"/>
<circle cx="355.7" cy="137.5" r="1.15"/>
<circle cx="366.8" cy="96.3" r="1.15"/>
<circle cx="362.2" cy="159.0" r="1.15"/>
<circle cx="365.9" cy="102.0" r="1.15"/>
<circle cx="367.1" cy="103.6" r="1.15"/>
<circle cx="355.0" cy="159.0" r="1.15"/>
<circle cx="355.9" cy="99.1" r="1.15"/>
<circle cx="366.1" cy="153.8" r="1.15"/>
<circle cx="365.5" cy="105.2" r="1.15"/>
<circle cx="361.8" cy="93.7" r="1.15"/>
<circle cx="362.1" cy="164.9" r="1.15"/>
<circle cx="366.1" cy="114.2" r="1.15"/>
<circle cx="364.1" cy="97.6" r="1.15"/>
<circle cx="361.8" cy="75.3" r="1.15"/>
<circle cx="355.7" cy="118.4" r="1.15"/>
<circle cx="363.8" cy="137.5" r="1.15"/>
<circle cx="368.8" cy="153.8" r="1.15"/>
<circle cx="362.2" cy="164.9" r="1.15"/>
<circle cx="363.0" cy="112.3" r="1.15"/>
<circle cx="364.2" cy="114.2" r="1.15"/>
<circle cx="361.5" cy="84.6" r="1.15"/>
<circle cx="368.7" cy="137.5" r="1.15"/>
<circle cx="358.7" cy="116.3" r="1.15"/>
<circle cx="355.0" cy="102.0" r="1.15"/>
<circle cx="362.2" cy="153.8" r="1.15"/>
<circle cx="361.9" cy="144.9" r="1.15"/>
<circle cx="359.6" cy="96.3" r="1.15"/>
<circle cx="366.4" cy="141.0" r="1.15"/>
<circle cx="363.4" cy="141.0" r="1.15"/>
<circle cx="364.0" cy="125.6" r="1.15"/>
<circle cx="357.7" cy="141.0" r="1.15"/>
<circle cx="365.1" cy="134.2" r="1.15"/>
<circle cx="369.1" cy="108.6" r="1.15"/>
<circle cx="361.9" cy="137.5" r="1.15"/>
<circle cx="358.8" cy="134.2" r="1.15"/>
<circle cx="355.8" cy="159.0" r="1.15"/>
<circle cx="354.3" cy="137.5" r="1.15"/>
<circle cx="362.2" cy="149.1" r="1.15"/>
<circle cx="367.9" cy="112.3" r="1.15"/>
<circle cx="357.0" cy="83.6" r="1.15"/>
<circle cx="365.0" cy="144.9" r="1.15"/>
<circle cx="362.3" cy="95.0" r="1.15"/>
<circle cx="358.9" cy="108.6" r="1.15"/>
<circle cx="368.3" cy="108.6" r="1.15"/>
<circle cx="361.6" cy="144.9" r="1.15"/>
<circle cx="359.4" cy="159.0" r="1.15"/>
<circle cx="356.6" cy="137.5" r="1.15"/>
<circle cx="362.0" cy="125.6" r="1.15"/>
<circle cx="369.4" cy="85.6" r="1.15"/>
<circle cx="355.9" cy="110.4" r="1.15"/>
<circle cx="361.6" cy="153.8" r="1.15"/>
<circle cx="367.7" cy="131.2" r="1.15"/>
<circle cx="362.5" cy="106.8" r="1.15"/>
<circle cx="365.7" cy="141.0" r="1.15"/>
<circle cx="366.7" cy="100.5" r="1.15"/>
<circle cx="364.8" cy="99.1" r="1.15"/>
<circle cx="364.6" cy="110.4" r="1.15"/>
<circle cx="354.6" cy="91.2" r="1.15"/>
<circle cx="359.2" cy="134.2" r="1.15"/>
<circle cx="362.3" cy="159.0" r="1.15"/>
<circle cx="354.4" cy="92.4" r="1.15"/>
<circle cx="366.3" cy="123.1" r="1.15"/>
<circle cx="368.5" cy="159.0" r="1.15"/>
<circle cx="355.8" cy="131.2" r="1.15"/>
<circle cx="362.1" cy="118.4" r="1.15"/>
<circle cx="367.2" cy="159.0" r="1.15"/>
<circle cx="362.0" cy="128.3" r="1.15"/>
<circle cx="359.4" cy="84.6" r="1.15"/>
<circle cx="361.8" cy="112.3" r="1.15"/>
<circle cx="365.8" cy="88.9" r="1.15"/>
<circle cx="361.7" cy="164.9" r="1.15"/>
<circle cx="365.6" cy="149.1" r="1.15"/>
<circle cx="357.3" cy="120.7" r="1.15"/>
<circle cx="368.0" cy="144.9" r="1.15"/>
<circle cx="361.8" cy="128.3" r="1.15"/>
<circle cx="361.1" cy="128.3" r="1.15"/>
<circle cx="359.7" cy="137.5" r="1.15"/>
<circle cx="362.9" cy="153.8" r="1.15"/>
<circle cx="362.3" cy="99.1" r="1.15"/>
<circle cx="368.7" cy="141.0" r="1.15"/>
<circle cx="359.6" cy="164.9" r="1.15"/>
<circle cx="365.2" cy="79.7" r="1.15"/>
<circle cx="362.3" cy="102.0" r="1.15"/>
<circle cx="356.3" cy="144.9" r="1.15"/>
<circle cx="364.8" cy="153.8" r="1.15"/>
<circle cx="362.4" cy="106.8" r="1.15"/>
<circle cx="361.5" cy="153.8" r="1.15"/>
<circle cx="369.4" cy="153.8" r="1.15"/>
<circle cx="366.4" cy="137.5" r="1.15"/>
<circle cx="362.8" cy="116.3" r="1.15"/>
<circle cx="360.7" cy="83.6" r="1.15"/>
<circle cx="360.4" cy="125.6" r="1.15"/>
<circle cx="356.1" cy="144.9" r="1.15"/>
<circle cx="357.6" cy="144.9" r="1.15"/>
<circle cx="362.4" cy="144.9" r="1.15"/>
<circle cx="362.2" cy="153.8" r="1.15"/>
<circle cx="365.5" cy="159.0" r="1.15"/>
<circle cx="357.5" cy="153.8" r="1.15"/>
<circle cx="368.9" cy="141.0" r="1.15"/>
<circle cx="362.0" cy="100.5" r="1.15"/>
<circle cx="364.9" cy="137.5" r="1.15"/>
<circle cx="367.9" cy="144.9" r="1.15"/>
<circle cx="357.0" cy="74.5" r="1.15"/>
<circle cx="357.8" cy="102.0" r="1.15"/>
<circle cx="358.9" cy="141.0" r="1.15"/>
<circle cx="367.6" cy="134.2" r="1.15"/>
<circle cx="360.3" cy="103.6" r="1.15"/>
<circle cx="361.8" cy="149.1" r="1.15"/>
<circle cx="369.4" cy="137.5" r="1.15"/>
<circle cx="369.9" cy="78.8" r="1.15"/>
<circle cx="361.3" cy="141.0" r="1.15"/>
<circle cx="361.8" cy="144.9" r="1.15"/>
<circle cx="361.6" cy="141.0" r="1.15"/>
<circle cx="362.2" cy="137.5" r="1.15"/>
<circle cx="365.0" cy="144.9" r="1.15"/>
<circle cx="363.6" cy="77.0" r="1.15"/>
<circle cx="358.4" cy="149.1" r="1.15"/>
<circle cx="359.2" cy="149.1" r="1.15"/>
<circle cx="358.8" cy="128.3" r="1.15"/>
<circle cx="364.2" cy="149.1" r="1.15"/>
<circle cx="358.4" cy="123.1" r="1.15"/>
<circle cx="367.8" cy="114.2" r="1.15"/>
<circle cx="362.2" cy="93.7" r="1.15"/>
<circle cx="357.7" cy="120.7" r="1.15"/>
<circle cx="362.1" cy="106.8" r="1.15"/>
<circle cx="362.4" cy="123.1" r="1.15"/>
<circle cx="355.5" cy="134.2" r="1.15"/>
<circle cx="386.1" cy="149.1" r="1.15"/>
<circle cx="378.2" cy="144.9" r="1.15"/>
<circle cx="379.8" cy="128.3" r="1.15"/>
<circle cx="393.1" cy="112.3" r="1.15"/>
<circle cx="386.2" cy="86.7" r="1.15"/>
<circle cx="390.6" cy="103.6" r="1.15"/>
<circle cx="384.9" cy="164.9" r="1.15"/>
<circle cx="386.0" cy="128.3" r="1.15"/>
<circle cx="383.8" cy="134.2" r="1.15"/>
<circle cx="382.7" cy="137.5" r="1.15"/>
<circle cx="386.0" cy="153.8" r="1.15"/>
<circle cx="385.2" cy="153.8" r="1.15"/>
<circle cx="387.4" cy="144.9" r="1.15"/>
<circle cx="393.5" cy="137.5" r="1.15"/>
<circle cx="382.0" cy="153.8" r="1.15"/>
<circle cx="393.0" cy="149.1" r="1.15"/>
<circle cx="388.0" cy="153.8" r="1.15"/>
<circle cx="386.0" cy="134.2" r="1.15"/>
<circle cx="385.9" cy="144.9" r="1.15"/>
<circle cx="390.5" cy="118.4" r="1.15"/>
<circle cx="385.3" cy="68.4" r="1.15"/>
<circle cx="392.0" cy="99.1" r="1.15"/>
<circle cx="386.3" cy="159.0" r="1.15"/>
<circle cx="380.8" cy="159.0" r="1.15"/>
<circle cx="379.7" cy="100.5" r="1.15"/>
<circle cx="389.8" cy="123.1" r="1.15"/>
<circle cx="386.0" cy="110.4" r="1.15"/>
<circle cx="385.7" cy="141.0" r="1.15"/>
<circle cx="384.5" cy="137.5" r="1.15"/>
<circle cx="381.9" cy="144.9" r="1.15"/>
<circle cx="393.0" cy="137.5" r="1.15"/>
<circle cx="385.8" cy="128.3" r="1.15"/>
<circle cx="388.3" cy="125.6" r="1.15"/>
<circle cx="385.9" cy="84.6" r="1.15"/>
<circle cx="383.9" cy="112.3" r="1.15"/>
<circle cx="389.6" cy="144.9" r="1.15"/>
<circle cx="385.9" cy="131.2" r="1.15"/>
<circle cx="385.6" cy="78.8" r="1.15"/>
<circle cx="385.9" cy="144.9" r="1.15"/>
<circle cx="388.5" cy="85.6" r="1.15"/>
<circle cx="386.2" cy="134.2" r="1.15"/>
<circle cx="386.1" cy="159.0" r="1.15"/>
<circle cx="380.3" cy="92.4" r="1.15"/>
<circle cx="380.3" cy="96.3" r="1.15"/>
<circle cx="386.3" cy="149.1" r="1.15"/>
<circle cx="378.5" cy="159.0" r="1.15"/>
<circle cx="390.7" cy="134.2" r="1.15"/>
<circle cx="382.5" cy="134.2" r="1.15"/>
<circle cx="383.7" cy="128.3" r="1.15"/>
<circle cx="389.5" cy="97.6" r="1.15"/>
<circle cx="384.9" cy="123.1" r="1.15"/>
<circle cx="385.7" cy="164.9" r="1.15"/>
<circle cx="380.5" cy="159.0" r="1.15"/>
<circle cx="388.7" cy="134.2" r="1.15"/>
<circle cx="386.3" cy="149.1" r="1.15"/>
<circle cx="386.2" cy="149.1" r="1.15"/>
<circle cx="392.3" cy="134.2" r="1.15"/>
<circle cx="380.5" cy="108.6" r="1.15"/>
<circle cx="381.0" cy="103.6" r="1.15"/>
<circle cx="386.7" cy="95.0" r="1.15"/>
<circle cx="383.7" cy="105.2" r="1.15"/>
<circle cx="378.2" cy="153.8" r="1.15"/>
<circle cx="386.1" cy="159.0" r="1.15"/>
<circle cx="392.8" cy="159.0" r="1.15"/>
<circle cx="385.6" cy="123.1" r="1.15"/>
<circle cx="393.4" cy="123.1" r="1.15"/>
<circle cx="385.7" cy="83.6" r="1.15"/>
<circle cx="388.0" cy="73.7" r="1.15"/>
<circle cx="389.7" cy="137.5" r="1.15"/>
<circle cx="386.3" cy="134.2" r="1.15"/>
<circle cx="386.2" cy="159.0" r="1.15"/>
<circle cx="391.2" cy="106.8" r="1.15"/>
<circle cx="391.9" cy="141.0" r="1.15"/>
<circle cx="380.5" cy="93.7" r="1.15"/>
<circle cx="384.9" cy="92.4" r="1.15"/>
<circle cx="388.3" cy="131.2" r="1.15"/>
<circle cx="386.7" cy="141.0" r="1.15"/>
<circle cx="391.6" cy="149.1" r="1.15"/>
<circle cx="386.4" cy="153.8" r="1.15"/>
<circle cx="385.8" cy="68.4" r="1.15"/>
<circle cx="391.2" cy="103.6" r="1.15"/>
<circle cx="378.3" cy="159.0" r="1.15"/>
<circle cx="390.3" cy="96.3" r="1.15"/>
<circle cx="384.0" cy="79.7" r="1.15"/>
<circle cx="383.4" cy="103.6" r="1.15"/>
<circle cx="386.2" cy="144.9" r="1.15"/>
<circle cx="386.1" cy="125.6" r="1.15"/>
<circle cx="381.6" cy="87.8" r="1.15"/>
<circle cx="378.4" cy="63.7" r="1.15"/>
<circle cx="385.7" cy="110.4" r="1.15"/>
<circle cx="379.9" cy="149.1" r="1.15"/>
<circle cx="391.7" cy="153.8" r="1.15"/>
<circle cx="385.6" cy="141.0" r="1.15"/>
<circle cx="386.0" cy="134.2" r="1.15"/>
<circle cx="385.9" cy="123.1" r="1.15"/>
<circle cx="392.6" cy="159.0" r="1.15"/>
<circle cx="384.8" cy="153.8" r="1.15"/>
<circle cx="382.0" cy="86.7" r="1.15"/>
<circle cx="385.8" cy="125.6" r="1.15"/>
<circle cx="386.3" cy="159.0" r="1.15"/>
<circle cx="388.6" cy="85.6" r="1.15"/>
<circle cx="378.9" cy="91.2" r="1.15"/>
<circle cx="387.1" cy="99.1" r="1.15"/>
<circle cx="385.8" cy="144.9" r="1.15"/>
<circle cx="386.3" cy="112.3" r="1.15"/>
<circle cx="389.9" cy="97.6" r="1.15"/>
<circle cx="390.1" cy="100.5" r="1.15"/>
<circle cx="391.0" cy="164.9" r="1.15"/>
<circle cx="384.8" cy="134.2" r="1.15"/>
<circle cx="387.5" cy="81.6" r="1.15"/>
<circle cx="384.7" cy="144.9" r="1.15"/>
<circle cx="391.1" cy="103.6" r="1.15"/>
<circle cx="385.9" cy="164.9" r="1.15"/>
<circle cx="381.3" cy="149.1" r="1.15"/>
<circle cx="385.8" cy="76.2" r="1.15"/>
<circle cx="409.2" cy="90.0" r="1.15"/>
<circle cx="404.0" cy="84.6" r="1.15"/>
<circle cx="413.3" cy="79.7" r="1.15"/>
<circle cx="413.1" cy="128.3" r="1.15"/>
<circle cx="409.0" cy="153.8" r="1.15"/>
<circle cx="412.2" cy="123.1" r="1.15"/>
<circle cx="414.9" cy="141.0" r="1.15"/>
<circle cx="412.8" cy="159.0" r="1.15"/>
<circle cx="409.4" cy="128.3" r="1.15"/>
<circle cx="409.2" cy="82.6" r="1.15"/>
<circle cx="412.1" cy="90.0" r="1.15"/>
<circle cx="409.7" cy="137.5" r="1.15"/>
<circle cx="414.8" cy="90.0" r="1.15"/>
<circle cx="406.3" cy="99.1" r="1.15"/>
<circle cx="408.7" cy="102.0" r="1.15"/>
<circle cx="412.8" cy="100.5" r="1.15"/>
<circle cx="415.8" cy="144.9" r="1.15"/>
<circle cx="411.8" cy="159.0" r="1.15"/>
<circle cx="409.9" cy="82.6" r="1.15"/>
<circle cx="404.7" cy="144.9" r="1.15"/>
<circle cx="405.3" cy="159.0" r="1.15"/>
<circle cx="411.9" cy="159.0" r="1.15"/>
<circle cx="410.9" cy="105.2" r="1.15"/>
<circle cx="414.1" cy="93.7" r="1.15"/>
<circle cx="409.7" cy="84.6" r="1.15"/>
<circle cx="402.9" cy="159.0" r="1.15"/>
<circle cx="411.9" cy="125.6" r="1.15"/>
<circle cx="408.4" cy="159.0" r="1.15"/>
<circle cx="402.8" cy="144.9" r="1.15"/>
<circle cx="407.7" cy="110.4" r="1.15"/>
<circle cx="408.3" cy="123.1" r="1.15"/>
<circle cx="411.6" cy="144.9" r="1.15"/>
<circle cx="413.9" cy="134.2" r="1.15"/>
<circle cx="414.0" cy="116.3" r="1.15"/>
<circle cx="408.7" cy="137.5" r="1.15"/>
<circle cx="408.1" cy="114.2" r="1.15"/>
<circle cx="413.9" cy="128.3" r="1.15"/>
<circle cx="403.1" cy="159.0" r="1.15"/>
<circle cx="408.7" cy="105.2" r="1.15"/>
<circle cx="409.9" cy="87.8" r="1.15"/>
<circle cx="404.9" cy="99.1" r="1.15"/>
<circle cx="404.3" cy="90.0" r="1.15"/>
<circle cx="405.2" cy="103.6" r="1.15"/>
<circle cx="407.5" cy="131.2" r="1.15"/>
<circle cx="402.7" cy="141.0" r="1.15"/>
<circle cx="405.1" cy="92.4" r="1.15"/>
<circle cx="407.7" cy="125.6" r="1.15"/>
<circle cx="410.9" cy="110.4" r="1.15"/>
<circle cx="410.9" cy="131.2" r="1.15"/>
<circle cx="403.6" cy="82.6" r="1.15"/>
<circle cx="415.2" cy="125.6" r="1.15"/>
<circle cx="407.5" cy="67.7" r="1.15"/>
<circle cx="408.8" cy="78.8" r="1.15"/>
<circle cx="408.7" cy="92.4" r="1.15"/>
<circle cx="411.9" cy="144.9" r="1.15"/>
<circle cx="409.2" cy="82.6" r="1.15"/>
<circle cx="408.9" cy="159.0" r="1.15"/>
<circle cx="403.0" cy="90.0" r="1.15"/>
<circle cx="404.8" cy="128.3" r="1.15"/>
<circle cx="408.1" cy="159.0" r="1.15"/>
<circle cx="407.3" cy="153.8" r="1.15"/>
<circle cx="409.0" cy="114.2" r="1.15"/>
<circle cx="413.2" cy="108.6" r="1.15"/>
<circle cx="406.7" cy="77.9" r="1.15"/>
<circle cx="409.0" cy="141.0" r="1.15"/>
<circle cx="444.3" cy="149.1" r="1.15"/>
<circle cx="437.1" cy="114.2" r="1.15"/>
<circle cx="446.6" cy="103.6" r="1.15"/>
<circle cx="445.5" cy="131.2" r="1.15"/>
<circle cx="438.1" cy="120.7" r="1.15"/>
<circle cx="442.2" cy="153.8" r="1.15"/>
<circle cx="442.3" cy="141.0" r="1.15"/>
<circle cx="441.7" cy="99.1" r="1.15"/>
<circle cx="440.6" cy="103.6" r="1.15"/>
<circle cx="437.3" cy="116.3" r="1.15"/>
<circle cx="445.9" cy="144.9" r="1.15"/>
<circle cx="439.1" cy="112.3" r="1.15"/>
<circle cx="447.1" cy="99.1" r="1.15"/>
<circle cx="442.1" cy="110.4" r="1.15"/>
<circle cx="441.4" cy="84.6" r="1.15"/>
<circle cx="440.3" cy="164.9" r="1.15"/>
<circle cx="442.0" cy="112.3" r="1.15"/>
<circle cx="446.6" cy="153.8" r="1.15"/>
<circle cx="440.5" cy="81.6" r="1.15"/>
<circle cx="437.1" cy="103.6" r="1.15"/>
<circle cx="441.7" cy="68.4" r="1.15"/>
<circle cx="441.7" cy="86.7" r="1.15"/>
<circle cx="441.8" cy="93.7" r="1.15"/>
<circle cx="447.2" cy="77.0" r="1.15"/>
<circle cx="438.7" cy="103.6" r="1.15"/>
<circle cx="441.8" cy="134.2" r="1.15"/>
<circle cx="436.2" cy="149.1" r="1.15"/>
<circle cx="436.5" cy="102.0" r="1.15"/>
<circle cx="442.3" cy="118.4" r="1.15"/>
<circle cx="438.2" cy="116.3" r="1.15"/>
<circle cx="458.9" cy="110.4" r="1.15"/>
<circle cx="454.1" cy="96.3" r="1.15"/>
<circle cx="455.9" cy="105.2" r="1.15"/>
<circle cx="479.7" cy="125.6" r="1.15"/>
<circle cx="459.9" cy="131.2" r="1.15"/>
<circle cx="479.4" cy="134.2" r="1.15"/>
<circle cx="459.5" cy="106.8" r="1.15"/>
<circle cx="463.1" cy="159.0" r="1.15"/>
<circle cx="469.7" cy="114.2" r="1.15"/>
<circle cx="462.5" cy="149.1" r="1.15"/>
<circle cx="469.8" cy="106.8" r="1.15"/>
<circle cx="450.5" cy="108.6" r="1.15"/>
</g>
<g fill="none" stroke-linejoin="round">
<polyline points="316.0,71.2 337.0,77.8 362.0,71.1 387.0,63.5 412.0,59.2 440.0,61.6" stroke="#2e2e2e" stroke-width="1.3" stroke-dasharray="2.7 3.7"/>
<polyline points="316.0,146.5 337.0,167.5 362.0,169.6 386.0,169.6 410.0,168.5 442.0,166.0" stroke="#2e2e2e" stroke-width="1.3" stroke-dasharray="2.7 3.7"/>
<polyline points="316.0,112.1 337.0,124.2 362.0,126.0 386.0,123.7 409.0,124.5 440.0,123.4" stroke="#9e1c1f" stroke-width="1.8" stroke-dasharray="4.6 5.2"/>
<polyline points="316.0,71.2 337.0,77.4 362.0,83.0 387.5,49.9 408.5,39.7 442.0,75.5" stroke="#2d4bab" stroke-width="1.2"/>
<polyline points="316.0,144.7 337.0,154.0 362.0,158.7 386.0,163.4 410.0,158.7 442.0,158.7" stroke="#2d4bab" stroke-width="1.2"/>
<polyline points="316.0,112.1 337.0,124.2 362.0,130.7 386.0,128.0 409.0,120.3 442.0,124.0" stroke="#9e1c1f" stroke-width="1.7"/>
</g>
<g clip-path="url(#cLYMPHNODES)" fill="#555555" fill-opacity="0.33">
<circle cx="526.7" cy="137.5" r="1.2" fill-opacity="0.42"/>
<circle cx="526.7" cy="108.6" r="1.2" fill-opacity="0.42"/>
<circle cx="526.7" cy="137.5" r="1.2" fill-opacity="0.42"/>
<circle cx="526.7" cy="99.1" r="1.2" fill-opacity="0.42"/>
<circle cx="526.7" cy="108.6" r="1.2" fill-opacity="0.42"/>
<circle cx="526.7" cy="125.6" r="1.2" fill-opacity="0.42"/>
<circle cx="526.7" cy="108.6" r="1.2" fill-opacity="0.42"/>
<circle cx="526.7" cy="112.3" r="1.2" fill-opacity="0.42"/>
<circle cx="526.7" cy="144.9" r="1.2" fill-opacity="0.42"/>
<circle cx="526.7" cy="116.3" r="1.2" fill-opacity="0.42"/>
<circle cx="526.7" cy="106.8" r="1.2" fill-opacity="0.42"/>
<circle cx="526.7" cy="116.3" r="1.2" fill-opacity="0.42"/>
<circle cx="526.7" cy="84.6" r="1.2" fill-opacity="0.42"/>
<circle cx="526.7" cy="97.6" r="1.2" fill-opacity="0.42"/>
<circle cx="526.7" cy="125.6" r="1.2" fill-opacity="0.42"/>
<circle cx="526.7" cy="134.2" r="1.2" fill-opacity="0.42"/>
<circle cx="526.7" cy="141.0" r="1.2" fill-opacity="0.42"/>
<circle cx="526.7" cy="91.2" r="1.2" fill-opacity="0.42"/>
<circle cx="526.7" cy="102.0" r="1.2" fill-opacity="0.42"/>
<circle cx="526.7" cy="108.6" r="1.2" fill-opacity="0.42"/>
<circle cx="526.7" cy="120.7" r="1.2" fill-opacity="0.42"/>
<circle cx="526.7" cy="118.4" r="1.2" fill-opacity="0.42"/>
<circle cx="526.7" cy="134.2" r="1.2" fill-opacity="0.42"/>
<circle cx="526.7" cy="116.3" r="1.2" fill-opacity="0.42"/>
<circle cx="526.7" cy="137.5" r="1.2" fill-opacity="0.42"/>
<circle cx="526.7" cy="106.8" r="1.2" fill-opacity="0.42"/>
<circle cx="526.7" cy="106.8" r="1.2" fill-opacity="0.42"/>
<circle cx="526.7" cy="103.6" r="1.2" fill-opacity="0.42"/>
<circle cx="526.7" cy="134.2" r="1.2" fill-opacity="0.42"/>
<circle cx="526.7" cy="141.0" r="1.2" fill-opacity="0.42"/>
<circle cx="526.7" cy="128.3" r="1.2" fill-opacity="0.42"/>
<circle cx="526.7" cy="102.0" r="1.2" fill-opacity="0.42"/>
<circle cx="526.7" cy="116.3" r="1.2" fill-opacity="0.42"/>
<circle cx="526.7" cy="96.3" r="1.2" fill-opacity="0.42"/>
<circle cx="526.7" cy="123.1" r="1.2" fill-opacity="0.42"/>
<circle cx="526.7" cy="123.1" r="1.2" fill-opacity="0.42"/>
<circle cx="526.7" cy="82.6" r="1.2" fill-opacity="0.42"/>
<circle cx="526.7" cy="137.5" r="1.2" fill-opacity="0.42"/>
<circle cx="526.7" cy="134.2" r="1.2" fill-opacity="0.42"/>
<circle cx="526.7" cy="110.4" r="1.2" fill-opacity="0.42"/>
<circle cx="526.7" cy="106.8" r="1.2" fill-opacity="0.42"/>
<circle cx="526.7" cy="123.1" r="1.2" fill-opacity="0.42"/>
<circle cx="526.7" cy="112.3" r="1.2" fill-opacity="0.42"/>
<circle cx="526.7" cy="120.7" r="1.2" fill-opacity="0.42"/>
<circle cx="526.7" cy="103.6" r="1.2" fill-opacity="0.42"/>
<circle cx="526.7" cy="84.6" r="1.2" fill-opacity="0.42"/>
<circle cx="526.7" cy="90.0" r="1.2" fill-opacity="0.42"/>
<circle cx="526.7" cy="105.2" r="1.2" fill-opacity="0.42"/>
<circle cx="526.7" cy="120.7" r="1.2" fill-opacity="0.42"/>
<circle cx="526.7" cy="78.8" r="1.2" fill-opacity="0.42"/>
<circle cx="526.7" cy="120.7" r="1.2" fill-opacity="0.42"/>
<circle cx="526.7" cy="106.8" r="1.2" fill-opacity="0.42"/>
<circle cx="526.7" cy="85.6" r="1.2" fill-opacity="0.42"/>
<circle cx="526.7" cy="102.0" r="1.2" fill-opacity="0.42"/>
<circle cx="526.7" cy="125.6" r="1.2" fill-opacity="0.42"/>
<circle cx="526.7" cy="96.3" r="1.2" fill-opacity="0.42"/>
<circle cx="526.7" cy="108.6" r="1.2" fill-opacity="0.42"/>
<circle cx="526.7" cy="81.6" r="1.2" fill-opacity="0.42"/>
<circle cx="526.7" cy="106.8" r="1.2" fill-opacity="0.42"/>
<circle cx="526.7" cy="114.2" r="1.2" fill-opacity="0.42"/>
<circle cx="526.7" cy="73.7" r="1.2" fill-opacity="0.42"/>
<circle cx="526.7" cy="116.3" r="1.2" fill-opacity="0.42"/>
<circle cx="526.7" cy="123.1" r="1.2" fill-opacity="0.42"/>
<circle cx="526.7" cy="79.7" r="1.2" fill-opacity="0.42"/>
<circle cx="526.7" cy="79.7" r="1.2" fill-opacity="0.42"/>
<circle cx="526.7" cy="137.5" r="1.2" fill-opacity="0.42"/>
<circle cx="526.7" cy="144.9" r="1.2" fill-opacity="0.42"/>
<circle cx="526.7" cy="86.7" r="1.2" fill-opacity="0.42"/>
<circle cx="526.7" cy="84.6" r="1.2" fill-opacity="0.42"/>
<circle cx="526.7" cy="125.6" r="1.2" fill-opacity="0.42"/>
<circle cx="526.7" cy="131.2" r="1.2" fill-opacity="0.42"/>
<circle cx="526.7" cy="102.0" r="1.2" fill-opacity="0.42"/>
<circle cx="526.7" cy="79.7" r="1.2" fill-opacity="0.42"/>
<circle cx="526.7" cy="134.2" r="1.2" fill-opacity="0.42"/>
<circle cx="526.7" cy="120.7" r="1.2" fill-opacity="0.42"/>
<circle cx="526.7" cy="103.6" r="1.2" fill-opacity="0.42"/>
<circle cx="526.7" cy="134.2" r="1.2" fill-opacity="0.42"/>
<circle cx="526.7" cy="123.1" r="1.2" fill-opacity="0.42"/>
<circle cx="526.7" cy="137.5" r="1.2" fill-opacity="0.42"/>
<circle cx="526.7" cy="118.4" r="1.2" fill-opacity="0.42"/>
<circle cx="526.7" cy="134.2" r="1.2" fill-opacity="0.42"/>
<circle cx="526.7" cy="141.0" r="1.2" fill-opacity="0.42"/>
<circle cx="526.7" cy="125.6" r="1.2" fill-opacity="0.42"/>
<circle cx="526.7" cy="137.5" r="1.2" fill-opacity="0.42"/>
<circle cx="526.7" cy="141.0" r="1.2" fill-opacity="0.42"/>
<circle cx="526.7" cy="137.5" r="1.2" fill-opacity="0.42"/>
<circle cx="526.7" cy="123.1" r="1.2" fill-opacity="0.42"/>
<circle cx="526.7" cy="128.3" r="1.2" fill-opacity="0.42"/>
<circle cx="526.7" cy="97.6" r="1.2" fill-opacity="0.42"/>
<circle cx="526.7" cy="123.1" r="1.2" fill-opacity="0.42"/>
<circle cx="526.7" cy="134.2" r="1.2" fill-opacity="0.42"/>
<circle cx="526.7" cy="137.5" r="1.2" fill-opacity="0.42"/>
<circle cx="526.7" cy="131.2" r="1.2" fill-opacity="0.42"/>
<circle cx="526.7" cy="96.3" r="1.2" fill-opacity="0.42"/>
<circle cx="526.7" cy="134.2" r="1.2" fill-opacity="0.42"/>
<circle cx="526.7" cy="120.7" r="1.2" fill-opacity="0.42"/>
<circle cx="526.7" cy="91.2" r="1.2" fill-opacity="0.42"/>
<circle cx="526.7" cy="88.9" r="1.2" fill-opacity="0.42"/>
<circle cx="526.7" cy="120.7" r="1.2" fill-opacity="0.42"/>
<circle cx="526.7" cy="87.8" r="1.2" fill-opacity="0.42"/>
<circle cx="526.7" cy="105.2" r="1.2" fill-opacity="0.42"/>
<circle cx="526.7" cy="134.2" r="1.2" fill-opacity="0.42"/>
<circle cx="526.7" cy="141.0" r="1.2" fill-opacity="0.42"/>
<circle cx="526.7" cy="137.5" r="1.2" fill-opacity="0.42"/>
<circle cx="526.7" cy="92.4" r="1.2" fill-opacity="0.42"/>
<circle cx="526.7" cy="125.6" r="1.2" fill-opacity="0.42"/>
<circle cx="526.7" cy="88.9" r="1.2" fill-opacity="0.42"/>
<circle cx="526.7" cy="75.3" r="1.2" fill-opacity="0.42"/>
<circle cx="526.7" cy="81.6" r="1.2" fill-opacity="0.42"/>
<circle cx="526.7" cy="120.7" r="1.2" fill-opacity="0.42"/>
<circle cx="526.7" cy="144.9" r="1.2" fill-opacity="0.42"/>
<circle cx="526.7" cy="131.2" r="1.2" fill-opacity="0.42"/>
<circle cx="526.7" cy="134.2" r="1.2" fill-opacity="0.42"/>
<circle cx="526.7" cy="105.2" r="1.2" fill-opacity="0.42"/>
<circle cx="526.7" cy="100.5" r="1.2" fill-opacity="0.42"/>
<circle cx="526.7" cy="81.6" r="1.2" fill-opacity="0.42"/>
<circle cx="526.7" cy="100.5" r="1.2" fill-opacity="0.42"/>
<circle cx="526.7" cy="77.0" r="1.2" fill-opacity="0.42"/>
<circle cx="526.7" cy="106.8" r="1.2" fill-opacity="0.42"/>
<circle cx="526.7" cy="118.4" r="1.2" fill-opacity="0.42"/>
<circle cx="526.7" cy="88.9" r="1.2" fill-opacity="0.42"/>
<circle cx="526.7" cy="131.2" r="1.2" fill-opacity="0.42"/>
<circle cx="526.7" cy="93.7" r="1.2" fill-opacity="0.42"/>
<circle cx="526.7" cy="97.6" r="1.2" fill-opacity="0.42"/>
<circle cx="526.7" cy="85.6" r="1.2" fill-opacity="0.42"/>
<circle cx="526.7" cy="144.9" r="1.2" fill-opacity="0.42"/>
<circle cx="526.7" cy="137.5" r="1.2" fill-opacity="0.42"/>
<circle cx="526.7" cy="78.8" r="1.2" fill-opacity="0.42"/>
<circle cx="526.7" cy="137.5" r="1.2" fill-opacity="0.42"/>
<circle cx="526.7" cy="120.7" r="1.2" fill-opacity="0.42"/>
<circle cx="526.7" cy="108.6" r="1.2" fill-opacity="0.42"/>
<circle cx="526.7" cy="118.4" r="1.2" fill-opacity="0.42"/>
<circle cx="526.7" cy="84.6" r="1.2" fill-opacity="0.42"/>
<circle cx="526.7" cy="77.9" r="1.2" fill-opacity="0.42"/>
<circle cx="526.7" cy="128.3" r="1.2" fill-opacity="0.42"/>
<circle cx="526.7" cy="141.0" r="1.2" fill-opacity="0.42"/>
<circle cx="526.7" cy="81.6" r="1.2" fill-opacity="0.42"/>
<circle cx="526.7" cy="120.7" r="1.2" fill-opacity="0.42"/>
<circle cx="526.7" cy="134.2" r="1.2" fill-opacity="0.42"/>
<circle cx="526.7" cy="141.0" r="1.2" fill-opacity="0.42"/>
<circle cx="526.7" cy="144.9" r="1.2" fill-opacity="0.42"/>
<circle cx="526.7" cy="110.4" r="1.2" fill-opacity="0.42"/>
<circle cx="526.7" cy="131.2" r="1.2" fill-opacity="0.42"/>
<circle cx="526.7" cy="112.3" r="1.2" fill-opacity="0.42"/>
<circle cx="526.7" cy="81.6" r="1.2" fill-opacity="0.42"/>
<circle cx="526.7" cy="118.4" r="1.2" fill-opacity="0.42"/>
<circle cx="526.7" cy="77.9" r="1.2" fill-opacity="0.42"/>
<circle cx="526.7" cy="144.9" r="1.2" fill-opacity="0.42"/>
<circle cx="526.7" cy="95.0" r="1.2" fill-opacity="0.42"/>
<circle cx="526.7" cy="96.3" r="1.2" fill-opacity="0.42"/>
<circle cx="526.7" cy="77.0" r="1.2" fill-opacity="0.42"/>
<circle cx="526.7" cy="144.9" r="1.2" fill-opacity="0.42"/>
<circle cx="526.7" cy="118.4" r="1.2" fill-opacity="0.42"/>
<circle cx="526.7" cy="112.3" r="1.2" fill-opacity="0.42"/>
<circle cx="526.7" cy="108.6" r="1.2" fill-opacity="0.42"/>
<circle cx="526.7" cy="120.7" r="1.2" fill-opacity="0.42"/>
<circle cx="526.7" cy="131.2" r="1.2" fill-opacity="0.42"/>
<circle cx="526.7" cy="82.6" r="1.2" fill-opacity="0.42"/>
<circle cx="526.7" cy="85.6" r="1.2" fill-opacity="0.42"/>
<circle cx="526.7" cy="100.5" r="1.2" fill-opacity="0.42"/>
<circle cx="526.7" cy="77.0" r="1.2" fill-opacity="0.42"/>
<circle cx="526.7" cy="114.2" r="1.2" fill-opacity="0.42"/>
<circle cx="526.7" cy="144.9" r="1.2" fill-opacity="0.42"/>
<circle cx="526.7" cy="100.5" r="1.2" fill-opacity="0.42"/>
<circle cx="526.7" cy="141.0" r="1.2" fill-opacity="0.42"/>
<circle cx="526.7" cy="96.3" r="1.2" fill-opacity="0.42"/>
<circle cx="526.7" cy="105.2" r="1.2" fill-opacity="0.42"/>
<circle cx="526.7" cy="134.2" r="1.2" fill-opacity="0.42"/>
<circle cx="526.7" cy="137.5" r="1.2" fill-opacity="0.42"/>
<circle cx="526.7" cy="144.9" r="1.2" fill-opacity="0.42"/>
<circle cx="547.4" cy="149.1" r="1.15"/>
<circle cx="541.9" cy="141.0" r="1.15"/>
<circle cx="545.0" cy="83.6" r="1.15"/>
<circle cx="547.0" cy="149.1" r="1.15"/>
<circle cx="547.2" cy="141.0" r="1.15"/>
<circle cx="549.7" cy="159.0" r="1.15"/>
<circle cx="547.2" cy="68.4" r="1.15"/>
<circle cx="547.0" cy="67.7" r="1.15"/>
<circle cx="553.9" cy="128.3" r="1.15"/>
<circle cx="540.8" cy="134.2" r="1.15"/>
<circle cx="545.5" cy="134.2" r="1.15"/>
<circle cx="545.3" cy="100.5" r="1.15"/>
<circle cx="543.2" cy="141.0" r="1.15"/>
<circle cx="550.4" cy="100.5" r="1.15"/>
<circle cx="552.8" cy="97.6" r="1.15"/>
<circle cx="544.0" cy="159.0" r="1.15"/>
<circle cx="552.0" cy="92.4" r="1.15"/>
<circle cx="550.3" cy="88.9" r="1.15"/>
<circle cx="546.6" cy="149.1" r="1.15"/>
<circle cx="547.1" cy="100.5" r="1.15"/>
<circle cx="549.6" cy="78.8" r="1.15"/>
<circle cx="546.2" cy="90.0" r="1.15"/>
<circle cx="543.4" cy="123.1" r="1.15"/>
<circle cx="546.9" cy="100.5" r="1.15"/>
<circle cx="547.0" cy="134.2" r="1.15"/>
<circle cx="540.9" cy="128.3" r="1.15"/>
<circle cx="541.4" cy="137.5" r="1.15"/>
<circle cx="541.1" cy="103.6" r="1.15"/>
<circle cx="547.0" cy="141.0" r="1.15"/>
<circle cx="552.5" cy="108.6" r="1.15"/>
<circle cx="544.5" cy="99.1" r="1.15"/>
<circle cx="548.9" cy="108.6" r="1.15"/>
<circle cx="546.9" cy="85.6" r="1.15"/>
<circle cx="551.9" cy="153.8" r="1.15"/>
<circle cx="547.0" cy="144.9" r="1.15"/>
<circle cx="550.8" cy="159.0" r="1.15"/>
<circle cx="545.2" cy="91.2" r="1.15"/>
<circle cx="552.4" cy="108.6" r="1.15"/>
<circle cx="548.7" cy="128.3" r="1.15"/>
<circle cx="544.1" cy="116.3" r="1.15"/>
<circle cx="543.4" cy="141.0" r="1.15"/>
<circle cx="546.9" cy="137.5" r="1.15"/>
<circle cx="547.1" cy="141.0" r="1.15"/>
<circle cx="543.4" cy="108.6" r="1.15"/>
<circle cx="542.4" cy="141.0" r="1.15"/>
<circle cx="545.6" cy="141.0" r="1.15"/>
<circle cx="547.3" cy="141.0" r="1.15"/>
<circle cx="547.8" cy="149.1" r="1.15"/>
<circle cx="552.6" cy="106.8" r="1.15"/>
<circle cx="550.6" cy="87.8" r="1.15"/>
<circle cx="546.8" cy="105.2" r="1.15"/>
<circle cx="553.8" cy="99.1" r="1.15"/>
<circle cx="542.2" cy="120.7" r="1.15"/>
<circle cx="548.1" cy="103.6" r="1.15"/>
<circle cx="552.5" cy="123.1" r="1.15"/>
<circle cx="547.3" cy="153.8" r="1.15"/>
<circle cx="553.0" cy="149.1" r="1.15"/>
<circle cx="547.2" cy="134.2" r="1.15"/>
<circle cx="550.5" cy="141.0" r="1.15"/>
<circle cx="547.0" cy="95.0" r="1.15"/>
<circle cx="541.5" cy="106.8" r="1.15"/>
<circle cx="553.6" cy="137.5" r="1.15"/>
<circle cx="546.9" cy="131.2" r="1.15"/>
<circle cx="547.2" cy="141.0" r="1.15"/>
<circle cx="543.3" cy="131.2" r="1.15"/>
<circle cx="542.9" cy="144.9" r="1.15"/>
<circle cx="545.5" cy="141.0" r="1.15"/>
<circle cx="549.7" cy="96.3" r="1.15"/>
<circle cx="552.0" cy="92.4" r="1.15"/>
<circle cx="552.9" cy="112.3" r="1.15"/>
<circle cx="545.4" cy="153.8" r="1.15"/>
<circle cx="545.8" cy="141.0" r="1.15"/>
<circle cx="550.6" cy="99.1" r="1.15"/>
<circle cx="547.2" cy="87.8" r="1.15"/>
<circle cx="553.2" cy="125.6" r="1.15"/>
<circle cx="548.3" cy="97.6" r="1.15"/>
<circle cx="545.2" cy="153.8" r="1.15"/>
<circle cx="553.1" cy="91.2" r="1.15"/>
<circle cx="546.3" cy="153.8" r="1.15"/>
<circle cx="543.8" cy="153.8" r="1.15"/>
<circle cx="547.3" cy="137.5" r="1.15"/>
<circle cx="541.0" cy="131.2" r="1.15"/>
<circle cx="550.8" cy="149.1" r="1.15"/>
<circle cx="551.4" cy="91.2" r="1.15"/>
<circle cx="547.1" cy="93.7" r="1.15"/>
<circle cx="551.0" cy="144.9" r="1.15"/>
<circle cx="540.2" cy="102.0" r="1.15"/>
<circle cx="542.5" cy="87.8" r="1.15"/>
<circle cx="546.6" cy="108.6" r="1.15"/>
<circle cx="547.1" cy="153.8" r="1.15"/>
<circle cx="547.2" cy="120.7" r="1.15"/>
<circle cx="549.9" cy="110.4" r="1.15"/>
<circle cx="546.9" cy="123.1" r="1.15"/>
<circle cx="549.0" cy="131.2" r="1.15"/>
<circle cx="551.8" cy="144.9" r="1.15"/>
<circle cx="546.6" cy="95.0" r="1.15"/>
<circle cx="547.1" cy="128.3" r="1.15"/>
<circle cx="553.1" cy="116.3" r="1.15"/>
<circle cx="546.9" cy="149.1" r="1.15"/>
<circle cx="550.4" cy="116.3" r="1.15"/>
<circle cx="552.1" cy="64.3" r="1.15"/>
<circle cx="549.8" cy="116.3" r="1.15"/>
<circle cx="547.4" cy="137.5" r="1.15"/>
<circle cx="543.2" cy="137.5" r="1.15"/>
<circle cx="547.4" cy="159.0" r="1.15"/>
<circle cx="547.2" cy="123.1" r="1.15"/>
<circle cx="553.2" cy="112.3" r="1.15"/>
<circle cx="550.0" cy="88.9" r="1.15"/>
<circle cx="545.1" cy="105.2" r="1.15"/>
<circle cx="546.9" cy="69.1" r="1.15"/>
<circle cx="545.6" cy="128.3" r="1.15"/>
<circle cx="549.9" cy="128.3" r="1.15"/>
<circle cx="545.9" cy="93.7" r="1.15"/>
<circle cx="543.4" cy="137.5" r="1.15"/>
<circle cx="550.2" cy="120.7" r="1.15"/>
<circle cx="542.8" cy="125.6" r="1.15"/>
<circle cx="546.2" cy="137.5" r="1.15"/>
<circle cx="548.4" cy="149.1" r="1.15"/>
<circle cx="540.9" cy="105.2" r="1.15"/>
<circle cx="543.5" cy="144.9" r="1.15"/>
<circle cx="542.3" cy="69.1" r="1.15"/>
<circle cx="541.2" cy="116.3" r="1.15"/>
<circle cx="544.0" cy="149.1" r="1.15"/>
<circle cx="544.6" cy="134.2" r="1.15"/>
<circle cx="554.0" cy="137.5" r="1.15"/>
<circle cx="549.9" cy="125.6" r="1.15"/>
<circle cx="546.1" cy="118.4" r="1.15"/>
<circle cx="548.5" cy="131.2" r="1.15"/>
<circle cx="546.7" cy="137.5" r="1.15"/>
<circle cx="547.1" cy="131.2" r="1.15"/>
<circle cx="550.9" cy="141.0" r="1.15"/>
<circle cx="544.7" cy="125.6" r="1.15"/>
<circle cx="548.4" cy="88.9" r="1.15"/>
<circle cx="548.7" cy="69.8" r="1.15"/>
<circle cx="551.8" cy="100.5" r="1.15"/>
<circle cx="547.1" cy="141.0" r="1.15"/>
<circle cx="541.8" cy="103.6" r="1.15"/>
<circle cx="552.1" cy="134.2" r="1.15"/>
<circle cx="551.3" cy="120.7" r="1.15"/>
<circle cx="550.9" cy="164.9" r="1.15"/>
<circle cx="549.1" cy="141.0" r="1.15"/>
<circle cx="550.3" cy="153.8" r="1.15"/>
<circle cx="540.1" cy="137.5" r="1.15"/>
<circle cx="546.6" cy="144.9" r="1.15"/>
<circle cx="542.5" cy="81.6" r="1.15"/>
<circle cx="547.3" cy="144.9" r="1.15"/>
<circle cx="547.1" cy="97.6" r="1.15"/>
<circle cx="543.9" cy="93.7" r="1.15"/>
<circle cx="546.7" cy="153.8" r="1.15"/>
<circle cx="550.6" cy="144.9" r="1.15"/>
<circle cx="551.9" cy="171.7" r="1.15"/>
<circle cx="541.9" cy="164.9" r="1.15"/>
<circle cx="545.4" cy="137.5" r="1.15"/>
<circle cx="540.2" cy="120.7" r="1.15"/>
<circle cx="547.4" cy="134.2" r="1.15"/>
<circle cx="547.0" cy="137.5" r="1.15"/>
<circle cx="547.2" cy="134.2" r="1.15"/>
<circle cx="550.6" cy="99.1" r="1.15"/>
<circle cx="544.1" cy="125.6" r="1.15"/>
<circle cx="548.7" cy="106.8" r="1.15"/>
<circle cx="549.1" cy="120.7" r="1.15"/>
<circle cx="542.0" cy="144.9" r="1.15"/>
<circle cx="547.1" cy="120.7" r="1.15"/>
<circle cx="546.9" cy="95.0" r="1.15"/>
<circle cx="547.0" cy="131.2" r="1.15"/>
<circle cx="544.0" cy="86.7" r="1.15"/>
<circle cx="547.0" cy="159.0" r="1.15"/>
<circle cx="547.0" cy="144.9" r="1.15"/>
<circle cx="549.9" cy="159.0" r="1.15"/>
<circle cx="544.4" cy="116.3" r="1.15"/>
<circle cx="552.1" cy="159.0" r="1.15"/>
<circle cx="550.2" cy="153.8" r="1.15"/>
<circle cx="547.0" cy="149.1" r="1.15"/>
<circle cx="547.3" cy="108.6" r="1.15"/>
<circle cx="552.2" cy="108.6" r="1.15"/>
<circle cx="550.7" cy="88.9" r="1.15"/>
<circle cx="552.2" cy="103.6" r="1.15"/>
<circle cx="553.2" cy="118.4" r="1.15"/>
<circle cx="549.7" cy="79.7" r="1.15"/>
<circle cx="546.9" cy="153.8" r="1.15"/>
<circle cx="547.1" cy="149.1" r="1.15"/>
<circle cx="547.1" cy="125.6" r="1.15"/>
<circle cx="540.4" cy="153.8" r="1.15"/>
<circle cx="540.9" cy="153.8" r="1.15"/>
<circle cx="553.2" cy="105.2" r="1.15"/>
<circle cx="550.9" cy="153.8" r="1.15"/>
<circle cx="549.4" cy="90.0" r="1.15"/>
<circle cx="546.7" cy="153.8" r="1.15"/>
<circle cx="544.8" cy="144.9" r="1.15"/>
<circle cx="553.1" cy="88.9" r="1.15"/>
<circle cx="569.7" cy="141.0" r="1.15"/>
<circle cx="573.1" cy="106.8" r="1.15"/>
<circle cx="570.0" cy="164.9" r="1.15"/>
<circle cx="574.0" cy="149.1" r="1.15"/>
<circle cx="564.9" cy="102.0" r="1.15"/>
<circle cx="567.4" cy="144.9" r="1.15"/>
<circle cx="570.4" cy="97.6" r="1.15"/>
<circle cx="568.8" cy="137.5" r="1.15"/>
<circle cx="564.4" cy="153.8" r="1.15"/>
<circle cx="567.8" cy="137.5" r="1.15"/>
<circle cx="569.9" cy="97.6" r="1.15"/>
<circle cx="571.1" cy="105.2" r="1.15"/>
<circle cx="570.2" cy="92.4" r="1.15"/>
<circle cx="564.2" cy="128.3" r="1.15"/>
<circle cx="565.3" cy="149.1" r="1.15"/>
<circle cx="570.3" cy="78.8" r="1.15"/>
<circle cx="568.4" cy="144.9" r="1.15"/>
<circle cx="573.4" cy="114.2" r="1.15"/>
<circle cx="568.5" cy="125.6" r="1.15"/>
<circle cx="570.0" cy="144.9" r="1.15"/>
<circle cx="570.1" cy="164.9" r="1.15"/>
<circle cx="571.2" cy="103.6" r="1.15"/>
<circle cx="575.5" cy="164.9" r="1.15"/>
<circle cx="572.9" cy="118.4" r="1.15"/>
<circle cx="564.8" cy="164.9" r="1.15"/>
<circle cx="574.7" cy="159.0" r="1.15"/>
<circle cx="574.5" cy="128.3" r="1.15"/>
<circle cx="569.8" cy="106.8" r="1.15"/>
<circle cx="569.8" cy="106.8" r="1.15"/>
<circle cx="570.1" cy="159.0" r="1.15"/>
<circle cx="570.0" cy="112.3" r="1.15"/>
<circle cx="566.9" cy="118.4" r="1.15"/>
<circle cx="564.2" cy="120.7" r="1.15"/>
<circle cx="575.8" cy="128.3" r="1.15"/>
<circle cx="564.9" cy="137.5" r="1.15"/>
<circle cx="569.7" cy="137.5" r="1.15"/>
<circle cx="575.6" cy="106.8" r="1.15"/>
<circle cx="569.4" cy="118.4" r="1.15"/>
<circle cx="564.3" cy="114.2" r="1.15"/>
<circle cx="574.7" cy="123.1" r="1.15"/>
<circle cx="566.4" cy="153.8" r="1.15"/>
<circle cx="570.2" cy="153.8" r="1.15"/>
<circle cx="572.7" cy="102.0" r="1.15"/>
<circle cx="569.8" cy="137.5" r="1.15"/>
<circle cx="575.8" cy="159.0" r="1.15"/>
<circle cx="569.0" cy="97.6" r="1.15"/>
<circle cx="567.7" cy="131.2" r="1.15"/>
<circle cx="570.3" cy="141.0" r="1.15"/>
<circle cx="573.6" cy="134.2" r="1.15"/>
<circle cx="569.9" cy="171.7" r="1.15"/>
<circle cx="575.8" cy="112.3" r="1.15"/>
<circle cx="565.7" cy="120.7" r="1.15"/>
<circle cx="569.3" cy="108.6" r="1.15"/>
<circle cx="570.3" cy="93.7" r="1.15"/>
<circle cx="569.7" cy="103.6" r="1.15"/>
<circle cx="575.8" cy="131.2" r="1.15"/>
<circle cx="569.8" cy="123.1" r="1.15"/>
<circle cx="575.8" cy="112.3" r="1.15"/>
<circle cx="574.5" cy="110.4" r="1.15"/>
<circle cx="571.3" cy="141.0" r="1.15"/>
<circle cx="569.7" cy="149.1" r="1.15"/>
<circle cx="570.3" cy="137.5" r="1.15"/>
<circle cx="569.7" cy="120.7" r="1.15"/>
<circle cx="574.3" cy="125.6" r="1.15"/>
<circle cx="570.4" cy="102.0" r="1.15"/>
<circle cx="573.6" cy="125.6" r="1.15"/>
<circle cx="569.8" cy="149.1" r="1.15"/>
<circle cx="570.0" cy="131.2" r="1.15"/>
<circle cx="569.9" cy="159.0" r="1.15"/>
<circle cx="576.0" cy="159.0" r="1.15"/>
<circle cx="569.9" cy="144.9" r="1.15"/>
<circle cx="570.3" cy="110.4" r="1.15"/>
<circle cx="571.7" cy="137.5" r="1.15"/>
<circle cx="566.2" cy="164.9" r="1.15"/>
<circle cx="574.8" cy="149.1" r="1.15"/>
<circle cx="565.4" cy="106.8" r="1.15"/>
<circle cx="575.8" cy="159.0" r="1.15"/>
<circle cx="565.2" cy="114.2" r="1.15"/>
<circle cx="566.2" cy="128.3" r="1.15"/>
<circle cx="573.5" cy="106.8" r="1.15"/>
<circle cx="570.1" cy="134.2" r="1.15"/>
<circle cx="573.0" cy="120.7" r="1.15"/>
<circle cx="567.3" cy="149.1" r="1.15"/>
<circle cx="567.2" cy="118.4" r="1.15"/>
<circle cx="570.4" cy="159.0" r="1.15"/>
<circle cx="572.9" cy="149.1" r="1.15"/>
<circle cx="570.4" cy="99.1" r="1.15"/>
<circle cx="566.8" cy="137.5" r="1.15"/>
<circle cx="565.5" cy="125.6" r="1.15"/>
<circle cx="566.6" cy="144.9" r="1.15"/>
<circle cx="567.4" cy="141.0" r="1.15"/>
<circle cx="569.9" cy="103.6" r="1.15"/>
<circle cx="569.4" cy="159.0" r="1.15"/>
<circle cx="572.6" cy="137.5" r="1.15"/>
<circle cx="572.3" cy="137.5" r="1.15"/>
<circle cx="570.0" cy="144.9" r="1.15"/>
<circle cx="572.8" cy="144.9" r="1.15"/>
<circle cx="570.0" cy="149.1" r="1.15"/>
<circle cx="575.5" cy="118.4" r="1.15"/>
<circle cx="570.1" cy="153.8" r="1.15"/>
<circle cx="573.9" cy="164.9" r="1.15"/>
<circle cx="574.0" cy="141.0" r="1.15"/>
<circle cx="568.1" cy="106.8" r="1.15"/>
<circle cx="569.6" cy="110.4" r="1.15"/>
<circle cx="569.7" cy="97.6" r="1.15"/>
<circle cx="570.2" cy="116.3" r="1.15"/>
<circle cx="570.3" cy="131.2" r="1.15"/>
<circle cx="572.6" cy="141.0" r="1.15"/>
<circle cx="570.8" cy="112.3" r="1.15"/>
<circle cx="569.0" cy="144.9" r="1.15"/>
<circle cx="570.3" cy="128.3" r="1.15"/>
<circle cx="571.6" cy="112.3" r="1.15"/>
<circle cx="570.0" cy="105.2" r="1.15"/>
<circle cx="570.1" cy="171.7" r="1.15"/>
<circle cx="570.4" cy="164.9" r="1.15"/>
<circle cx="575.9" cy="118.4" r="1.15"/>
<circle cx="565.8" cy="116.3" r="1.15"/>
<circle cx="570.1" cy="164.9" r="1.15"/>
<circle cx="570.2" cy="159.0" r="1.15"/>
<circle cx="565.7" cy="123.1" r="1.15"/>
<circle cx="570.4" cy="120.7" r="1.15"/>
<circle cx="570.4" cy="159.0" r="1.15"/>
<circle cx="571.0" cy="159.0" r="1.15"/>
<circle cx="567.2" cy="108.6" r="1.15"/>
<circle cx="575.2" cy="159.0" r="1.15"/>
<circle cx="572.3" cy="164.9" r="1.15"/>
<circle cx="570.2" cy="118.4" r="1.15"/>
<circle cx="570.2" cy="108.6" r="1.15"/>
<circle cx="570.6" cy="112.3" r="1.15"/>
<circle cx="570.2" cy="92.4" r="1.15"/>
<circle cx="575.9" cy="108.6" r="1.15"/>
<circle cx="568.6" cy="149.1" r="1.15"/>
<circle cx="566.8" cy="153.8" r="1.15"/>
<circle cx="568.8" cy="97.6" r="1.15"/>
<circle cx="569.9" cy="102.0" r="1.15"/>
<circle cx="572.7" cy="134.2" r="1.15"/>
<circle cx="565.8" cy="137.5" r="1.15"/>
<circle cx="572.6" cy="96.3" r="1.15"/>
<circle cx="575.6" cy="105.2" r="1.15"/>
<circle cx="567.1" cy="164.9" r="1.15"/>
<circle cx="594.4" cy="128.3" r="1.15"/>
<circle cx="597.4" cy="153.8" r="1.15"/>
<circle cx="594.8" cy="120.7" r="1.15"/>
<circle cx="599.3" cy="159.0" r="1.15"/>
<circle cx="597.2" cy="137.5" r="1.15"/>
<circle cx="603.4" cy="149.1" r="1.15"/>
<circle cx="600.6" cy="159.0" r="1.15"/>
<circle cx="590.4" cy="114.2" r="1.15"/>
<circle cx="592.5" cy="137.5" r="1.15"/>
<circle cx="599.2" cy="141.0" r="1.15"/>
<circle cx="596.9" cy="171.7" r="1.15"/>
<circle cx="590.6" cy="120.7" r="1.15"/>
<circle cx="594.8" cy="92.4" r="1.15"/>
<circle cx="596.2" cy="131.2" r="1.15"/>
<circle cx="600.9" cy="100.5" r="1.15"/>
<circle cx="592.1" cy="100.5" r="1.15"/>
<circle cx="594.8" cy="123.1" r="1.15"/>
<circle cx="594.6" cy="141.0" r="1.15"/>
<circle cx="594.6" cy="164.9" r="1.15"/>
<circle cx="592.7" cy="171.7" r="1.15"/>
<circle cx="596.8" cy="131.2" r="1.15"/>
<circle cx="597.3" cy="118.4" r="1.15"/>
<circle cx="603.6" cy="103.6" r="1.15"/>
<circle cx="594.3" cy="105.2" r="1.15"/>
<circle cx="603.9" cy="164.9" r="1.15"/>
<circle cx="596.8" cy="105.2" r="1.15"/>
<circle cx="597.2" cy="144.9" r="1.15"/>
<circle cx="597.3" cy="144.9" r="1.15"/>
<circle cx="599.5" cy="123.1" r="1.15"/>
<circle cx="598.2" cy="116.3" r="1.15"/>
<circle cx="600.4" cy="164.9" r="1.15"/>
<circle cx="605.0" cy="118.4" r="1.15"/>
<circle cx="590.9" cy="137.5" r="1.15"/>
<circle cx="591.8" cy="149.1" r="1.15"/>
<circle cx="589.4" cy="137.5" r="1.15"/>
<circle cx="598.9" cy="97.6" r="1.15"/>
<circle cx="599.2" cy="159.0" r="1.15"/>
<circle cx="597.1" cy="164.9" r="1.15"/>
<circle cx="602.7" cy="144.9" r="1.15"/>
<circle cx="592.3" cy="88.9" r="1.15"/>
<circle cx="594.6" cy="131.2" r="1.15"/>
<circle cx="595.8" cy="128.3" r="1.15"/>
<circle cx="596.7" cy="144.9" r="1.15"/>
<circle cx="596.8" cy="149.1" r="1.15"/>
<circle cx="589.7" cy="120.7" r="1.15"/>
<circle cx="600.6" cy="114.2" r="1.15"/>
<circle cx="594.1" cy="141.0" r="1.15"/>
<circle cx="596.6" cy="108.6" r="1.15"/>
<circle cx="602.6" cy="114.2" r="1.15"/>
<circle cx="591.7" cy="153.8" r="1.15"/>
<circle cx="599.5" cy="149.1" r="1.15"/>
<circle cx="593.0" cy="144.9" r="1.15"/>
<circle cx="596.8" cy="164.9" r="1.15"/>
<circle cx="601.5" cy="128.3" r="1.15"/>
<circle cx="598.2" cy="137.5" r="1.15"/>
<circle cx="603.9" cy="99.1" r="1.15"/>
<circle cx="594.2" cy="144.9" r="1.15"/>
<circle cx="594.8" cy="141.0" r="1.15"/>
<circle cx="601.8" cy="153.8" r="1.15"/>
<circle cx="597.3" cy="128.3" r="1.15"/>
<circle cx="593.2" cy="164.9" r="1.15"/>
<circle cx="597.0" cy="149.1" r="1.15"/>
<circle cx="597.3" cy="92.4" r="1.15"/>
<circle cx="597.3" cy="93.7" r="1.15"/>
<circle cx="592.6" cy="164.9" r="1.15"/>
<circle cx="589.9" cy="100.5" r="1.15"/>
<circle cx="599.1" cy="99.1" r="1.15"/>
<circle cx="591.7" cy="116.3" r="1.15"/>
<circle cx="596.9" cy="99.1" r="1.15"/>
<circle cx="594.7" cy="144.9" r="1.15"/>
<circle cx="594.2" cy="164.9" r="1.15"/>
<circle cx="597.0" cy="141.0" r="1.15"/>
<circle cx="590.9" cy="159.0" r="1.15"/>
<circle cx="596.8" cy="159.0" r="1.15"/>
<circle cx="594.3" cy="97.6" r="1.15"/>
<circle cx="596.4" cy="141.0" r="1.15"/>
<circle cx="592.8" cy="164.9" r="1.15"/>
<circle cx="592.6" cy="123.1" r="1.15"/>
<circle cx="598.0" cy="123.1" r="1.15"/>
<circle cx="602.9" cy="153.8" r="1.15"/>
<circle cx="594.2" cy="123.1" r="1.15"/>
<circle cx="593.6" cy="153.8" r="1.15"/>
<circle cx="604.8" cy="137.5" r="1.15"/>
<circle cx="603.4" cy="149.1" r="1.15"/>
<circle cx="591.0" cy="100.5" r="1.15"/>
<circle cx="592.2" cy="100.5" r="1.15"/>
<circle cx="598.3" cy="128.3" r="1.15"/>
<circle cx="601.8" cy="144.9" r="1.15"/>
<circle cx="594.7" cy="159.0" r="1.15"/>
<circle cx="593.2" cy="159.0" r="1.15"/>
<circle cx="593.2" cy="103.6" r="1.15"/>
<circle cx="597.2" cy="125.6" r="1.15"/>
<circle cx="596.8" cy="108.6" r="1.15"/>
<circle cx="596.6" cy="120.7" r="1.15"/>
<circle cx="604.3" cy="144.9" r="1.15"/>
<circle cx="597.2" cy="134.2" r="1.15"/>
<circle cx="603.3" cy="106.8" r="1.15"/>
<circle cx="596.8" cy="103.6" r="1.15"/>
<circle cx="590.7" cy="171.7" r="1.15"/>
<circle cx="590.5" cy="118.4" r="1.15"/>
<circle cx="600.2" cy="144.9" r="1.15"/>
<circle cx="592.1" cy="164.9" r="1.15"/>
<circle cx="596.7" cy="97.6" r="1.15"/>
<circle cx="597.3" cy="149.1" r="1.15"/>
<circle cx="599.7" cy="153.8" r="1.15"/>
<circle cx="596.8" cy="114.2" r="1.15"/>
<circle cx="592.3" cy="144.9" r="1.15"/>
<circle cx="604.7" cy="137.5" r="1.15"/>
<circle cx="589.3" cy="102.0" r="1.15"/>
<circle cx="594.2" cy="103.6" r="1.15"/>
<circle cx="619.6" cy="100.5" r="1.15"/>
<circle cx="616.7" cy="149.1" r="1.15"/>
<circle cx="616.9" cy="137.5" r="1.15"/>
<circle cx="620.3" cy="153.8" r="1.15"/>
<circle cx="624.8" cy="102.0" r="1.15"/>
<circle cx="616.5" cy="164.9" r="1.15"/>
<circle cx="620.9" cy="116.3" r="1.15"/>
<circle cx="621.2" cy="128.3" r="1.15"/>
<circle cx="625.1" cy="164.9" r="1.15"/>
<circle cx="618.1" cy="159.0" r="1.15"/>
<circle cx="619.8" cy="144.9" r="1.15"/>
<circle cx="621.3" cy="103.6" r="1.15"/>
<circle cx="615.1" cy="164.9" r="1.15"/>
<circle cx="623.1" cy="116.3" r="1.15"/>
<circle cx="618.5" cy="97.6" r="1.15"/>
<circle cx="618.2" cy="131.2" r="1.15"/>
<circle cx="617.1" cy="141.0" r="1.15"/>
<circle cx="622.3" cy="159.0" r="1.15"/>
<circle cx="619.8" cy="144.9" r="1.15"/>
<circle cx="614.5" cy="118.4" r="1.15"/>
<circle cx="619.8" cy="141.0" r="1.15"/>
<circle cx="620.0" cy="164.9" r="1.15"/>
<circle cx="626.8" cy="164.9" r="1.15"/>
<circle cx="622.5" cy="114.2" r="1.15"/>
<circle cx="619.8" cy="134.2" r="1.15"/>
<circle cx="614.1" cy="164.9" r="1.15"/>
<circle cx="623.7" cy="106.8" r="1.15"/>
<circle cx="619.7" cy="128.3" r="1.15"/>
<circle cx="616.1" cy="114.2" r="1.15"/>
<circle cx="621.3" cy="131.2" r="1.15"/>
<circle cx="620.7" cy="128.3" r="1.15"/>
<circle cx="621.7" cy="100.5" r="1.15"/>
<circle cx="619.7" cy="100.5" r="1.15"/>
<circle cx="616.2" cy="153.8" r="1.15"/>
<circle cx="616.0" cy="164.9" r="1.15"/>
<circle cx="619.7" cy="77.9" r="1.15"/>
<circle cx="619.2" cy="131.2" r="1.15"/>
<circle cx="614.6" cy="149.1" r="1.15"/>
<circle cx="625.2" cy="106.8" r="1.15"/>
<circle cx="624.8" cy="164.9" r="1.15"/>
<circle cx="617.9" cy="171.7" r="1.15"/>
<circle cx="616.8" cy="159.0" r="1.15"/>
<circle cx="613.5" cy="134.2" r="1.15"/>
<circle cx="625.5" cy="149.1" r="1.15"/>
<circle cx="620.0" cy="102.0" r="1.15"/>
<circle cx="623.3" cy="141.0" r="1.15"/>
<circle cx="618.9" cy="128.3" r="1.15"/>
<circle cx="617.2" cy="116.3" r="1.15"/>
<circle cx="625.1" cy="100.5" r="1.15"/>
<circle cx="617.4" cy="134.2" r="1.15"/>
<circle cx="621.5" cy="149.1" r="1.15"/>
<circle cx="619.7" cy="159.0" r="1.15"/>
<circle cx="619.9" cy="116.3" r="1.15"/>
<circle cx="620.4" cy="141.0" r="1.15"/>
<circle cx="626.7" cy="108.6" r="1.15"/>
<circle cx="615.4" cy="137.5" r="1.15"/>
<circle cx="623.1" cy="93.7" r="1.15"/>
<circle cx="619.2" cy="95.0" r="1.15"/>
<circle cx="614.7" cy="153.8" r="1.15"/>
<circle cx="626.6" cy="125.6" r="1.15"/>
<circle cx="625.6" cy="102.0" r="1.15"/>
<circle cx="621.1" cy="123.1" r="1.15"/>
<circle cx="617.8" cy="144.9" r="1.15"/>
<circle cx="620.2" cy="114.2" r="1.15"/>
<circle cx="613.2" cy="128.3" r="1.15"/>
<circle cx="659.7" cy="164.9" r="1.15"/>
<circle cx="654.8" cy="144.9" r="1.15"/>
<circle cx="663.7" cy="108.6" r="1.15"/>
<circle cx="659.3" cy="141.0" r="1.15"/>
<circle cx="659.2" cy="128.3" r="1.15"/>
<circle cx="660.1" cy="164.9" r="1.15"/>
<circle cx="661.0" cy="134.2" r="1.15"/>
<circle cx="658.5" cy="144.9" r="1.15"/>
<circle cx="660.1" cy="103.6" r="1.15"/>
<circle cx="662.9" cy="134.2" r="1.15"/>
<circle cx="664.1" cy="141.0" r="1.15"/>
<circle cx="665.5" cy="144.9" r="1.15"/>
<circle cx="658.6" cy="141.0" r="1.15"/>
<circle cx="660.1" cy="106.8" r="1.15"/>
<circle cx="665.9" cy="96.3" r="1.15"/>
<circle cx="657.4" cy="120.7" r="1.15"/>
<circle cx="660.5" cy="159.0" r="1.15"/>
<circle cx="658.6" cy="141.0" r="1.15"/>
<circle cx="658.6" cy="149.1" r="1.15"/>
<circle cx="662.0" cy="171.7" r="1.15"/>
<circle cx="660.2" cy="159.0" r="1.15"/>
<circle cx="660.3" cy="134.2" r="1.15"/>
<circle cx="659.6" cy="137.5" r="1.15"/>
<circle cx="657.1" cy="171.7" r="1.15"/>
<circle cx="659.7" cy="171.7" r="1.15"/>
<circle cx="686.7" cy="134.2" r="1.15"/>
<circle cx="665.0" cy="153.8" r="1.15"/>
<circle cx="687.7" cy="141.0" r="1.15"/>
<circle cx="667.2" cy="137.5" r="1.15"/>
<circle cx="687.0" cy="134.2" r="1.15"/>
<circle cx="668.8" cy="159.0" r="1.15"/>
<circle cx="675.0" cy="153.8" r="1.15"/>
<circle cx="691.3" cy="125.6" r="1.15"/>
<circle cx="687.2" cy="164.9" r="1.15"/>
<circle cx="672.0" cy="144.9" r="1.15"/>
<circle cx="678.0" cy="105.2" r="1.15"/>
<circle cx="687.8" cy="120.7" r="1.15"/>
</g>
<g fill="none" stroke-linejoin="round">
<polyline points="527.0,78.9 549.0,87.6 573.0,87.6 598.0,87.6 620.0,83.3 656.0,80.2" stroke="#2e2e2e" stroke-width="1.3" stroke-dasharray="2.7 3.7"/>
<polyline points="527.0,150.0 549.0,168.5 573.0,171.1 598.0,171.1 620.0,170.0 656.0,168.0" stroke="#2e2e2e" stroke-width="1.3" stroke-dasharray="2.7 3.7"/>
<polyline points="527.0,118.0 549.0,131.0 573.0,134.7 598.0,133.0 620.0,132.5 652.0,130.4" stroke="#9e1c1f" stroke-width="1.8" stroke-dasharray="4.6 5.2"/>
<polyline points="527.0,78.9 549.0,87.2 573.0,96.0 598.0,96.5 620.0,92.6 662.0,101.9" stroke="#2d4bab" stroke-width="1.2"/>
<polyline points="527.0,144.7 549.0,158.7 573.0,164.4 598.0,164.4 620.0,165.0 662.0,165.0" stroke="#2d4bab" stroke-width="1.2"/>
<polyline points="527.0,118.0 549.0,131.5 573.0,137.0 598.0,137.0 620.0,142.4 662.0,135.9" stroke="#9e1c1f" stroke-width="1.7"/>
</g>
<rect x="50.5" y="21.2" width="206.2" height="196.3" fill="none" stroke="#7a7a7a" stroke-width="1"/>
<rect x="50.5" y="0.5" width="206.2" height="20.7" fill="#d9d9d9" stroke="#999999" stroke-width="1"/>
<line x1="50.5" x2="256.7" y1="21.2" y2="21.2" stroke="#585858" stroke-width="1.5"/>
<line x1="59.5" x2="59.5" y1="21.2" y2="27.4" stroke="#444" stroke-width="1.4"/>
<line x1="86.3" x2="86.3" y1="21.2" y2="27.4" stroke="#444" stroke-width="1.4"/>
<line x1="107.8" x2="107.8" y1="21.2" y2="27.4" stroke="#444" stroke-width="1.4"/>
<line x1="134.4" x2="134.4" y1="21.2" y2="27.4" stroke="#444" stroke-width="1.4"/>
<line x1="156.4" x2="156.4" y1="21.2" y2="27.4" stroke="#444" stroke-width="1.4"/>
<line x1="182.6" x2="182.6" y1="21.2" y2="27.4" stroke="#444" stroke-width="1.4"/>
<line x1="247.4" x2="247.4" y1="21.2" y2="27.4" stroke="#444" stroke-width="1.4"/>
<line x1="72.80" x2="72.80" y1="217.5" y2="220.0" stroke="#555" stroke-width="1"/>
<text x="73.10" y="232.6" font-size="14.6" fill="#4d4d4d" stroke="#4d4d4d" stroke-width="0.25" text-anchor="middle">0</text>
<line x1="104.96" x2="104.96" y1="217.5" y2="220.0" stroke="#555" stroke-width="1"/>
<text x="105.26" y="232.6" font-size="14.6" fill="#4d4d4d" stroke="#4d4d4d" stroke-width="0.25" text-anchor="middle">12</text>
<line x1="137.12" x2="137.12" y1="217.5" y2="220.0" stroke="#555" stroke-width="1"/>
<text x="137.42" y="232.6" font-size="14.6" fill="#4d4d4d" stroke="#4d4d4d" stroke-width="0.25" text-anchor="middle">24</text>
<line x1="169.28" x2="169.28" y1="217.5" y2="220.0" stroke="#555" stroke-width="1"/>
<text x="169.58" y="232.6" font-size="14.6" fill="#4d4d4d" stroke="#4d4d4d" stroke-width="0.25" text-anchor="middle">36</text>
<line x1="201.44" x2="201.44" y1="217.5" y2="220.0" stroke="#555" stroke-width="1"/>
<text x="201.74" y="232.6" font-size="14.6" fill="#4d4d4d" stroke="#4d4d4d" stroke-width="0.25" text-anchor="middle">48</text>
<line x1="233.60" x2="233.60" y1="217.5" y2="220.0" stroke="#555" stroke-width="1"/>
<text x="233.90" y="232.6" font-size="14.6" fill="#4d4d4d" stroke="#4d4d4d" stroke-width="0.25" text-anchor="middle">60</text>
<line x1="47.5" x2="50.5" y1="190.40" y2="190.40" stroke="#555" stroke-width="1"/>
<text x="45.9" y="196.0" font-size="14.6" fill="#4d4d4d" stroke="#4d4d4d" stroke-width="0.25" text-anchor="end">5</text>
<line x1="47.5" x2="50.5" y1="169.86" y2="169.86" stroke="#555" stroke-width="1"/>
<text x="45.9" y="175.5" font-size="14.6" fill="#4d4d4d" stroke="#4d4d4d" stroke-width="0.25" text-anchor="end">10</text>
<line x1="47.5" x2="50.5" y1="142.70" y2="142.70" stroke="#555" stroke-width="1"/>
<text x="45.9" y="148.3" font-size="14.6" fill="#4d4d4d" stroke="#4d4d4d" stroke-width="0.25" text-anchor="end">25</text>
<line x1="47.5" x2="50.5" y1="122.16" y2="122.16" stroke="#555" stroke-width="1"/>
<text x="45.9" y="127.8" font-size="14.6" fill="#4d4d4d" stroke="#4d4d4d" stroke-width="0.25" text-anchor="end">50</text>
<line x1="47.5" x2="50.5" y1="101.62" y2="101.62" stroke="#555" stroke-width="1"/>
<text x="45.9" y="107.2" font-size="14.6" fill="#4d4d4d" stroke="#4d4d4d" stroke-width="0.25" text-anchor="end">100</text>
<line x1="47.5" x2="50.5" y1="81.08" y2="81.08" stroke="#555" stroke-width="1"/>
<text x="45.9" y="86.7" font-size="14.6" fill="#4d4d4d" stroke="#4d4d4d" stroke-width="0.25" text-anchor="end">200</text>
<line x1="47.5" x2="50.5" y1="60.54" y2="60.54" stroke="#555" stroke-width="1"/>
<text x="45.9" y="66.1" font-size="14.6" fill="#4d4d4d" stroke="#4d4d4d" stroke-width="0.25" text-anchor="end">400</text>
<line x1="47.5" x2="50.5" y1="36.51" y2="36.51" stroke="#555" stroke-width="1"/>
<text x="45.9" y="42.1" font-size="14.6" fill="#4d4d4d" stroke="#4d4d4d" stroke-width="0.25" text-anchor="end">900</text>
<text x="0" y="0" font-size="14.4" fill="#1a1a1a" stroke="#1a1a1a" stroke-width="0.3" text-anchor="middle" transform="translate(154.5,16.3) scale(0.87,1)">SLD</text>
<rect x="293.4" y="21.4" width="204.10000000000002" height="194.1" fill="none" stroke="#7a7a7a" stroke-width="1"/>
<rect x="293.4" y="0.5" width="204.10000000000002" height="20.9" fill="#d9d9d9" stroke="#999999" stroke-width="1"/>
<line x1="293.4" x2="497.5" y1="21.4" y2="21.4" stroke="#585858" stroke-width="1.5"/>
<line x1="302.6" x2="302.6" y1="21.4" y2="27.599999999999998" stroke="#444" stroke-width="1.4"/>
<line x1="329.2" x2="329.2" y1="21.4" y2="27.599999999999998" stroke="#444" stroke-width="1.4"/>
<line x1="350.5" x2="350.5" y1="21.4" y2="27.599999999999998" stroke="#444" stroke-width="1.4"/>
<line x1="376.9" x2="376.9" y1="21.4" y2="27.599999999999998" stroke="#444" stroke-width="1.4"/>
<line x1="398.5" x2="398.5" y1="21.4" y2="27.599999999999998" stroke="#444" stroke-width="1.4"/>
<line x1="424.4" x2="424.4" y1="21.4" y2="27.599999999999998" stroke="#444" stroke-width="1.4"/>
<line x1="488.5" x2="488.5" y1="21.4" y2="27.599999999999998" stroke="#444" stroke-width="1.4"/>
<line x1="315.70" x2="315.70" y1="215.5" y2="218.0" stroke="#555" stroke-width="1"/>
<text x="316.00" y="230.6" font-size="14.6" fill="#4d4d4d" stroke="#4d4d4d" stroke-width="0.25" text-anchor="middle">0</text>
<line x1="347.66" x2="347.66" y1="215.5" y2="218.0" stroke="#555" stroke-width="1"/>
<text x="347.96" y="230.6" font-size="14.6" fill="#4d4d4d" stroke="#4d4d4d" stroke-width="0.25" text-anchor="middle">12</text>
<line x1="379.61" x2="379.61" y1="215.5" y2="218.0" stroke="#555" stroke-width="1"/>
<text x="379.91" y="230.6" font-size="14.6" fill="#4d4d4d" stroke="#4d4d4d" stroke-width="0.25" text-anchor="middle">24</text>
<line x1="411.57" x2="411.57" y1="215.5" y2="218.0" stroke="#555" stroke-width="1"/>
<text x="411.87" y="230.6" font-size="14.6" fill="#4d4d4d" stroke="#4d4d4d" stroke-width="0.25" text-anchor="middle">36</text>
<line x1="443.52" x2="443.52" y1="215.5" y2="218.0" stroke="#555" stroke-width="1"/>
<text x="443.82" y="230.6" font-size="14.6" fill="#4d4d4d" stroke="#4d4d4d" stroke-width="0.25" text-anchor="middle">48</text>
<line x1="475.48" x2="475.48" y1="215.5" y2="218.0" stroke="#555" stroke-width="1"/>
<text x="475.78" y="230.6" font-size="14.6" fill="#4d4d4d" stroke="#4d4d4d" stroke-width="0.25" text-anchor="middle">60</text>
<line x1="290.4" x2="293.4" y1="179.78" y2="179.78" stroke="#555" stroke-width="1"/>
<text x="288.8" y="185.4" font-size="14.6" fill="#4d4d4d" stroke="#4d4d4d" stroke-width="0.25" text-anchor="end">5</text>
<line x1="290.4" x2="293.4" y1="149.11" y2="149.11" stroke="#555" stroke-width="1"/>
<text x="288.8" y="154.7" font-size="14.6" fill="#4d4d4d" stroke="#4d4d4d" stroke-width="0.25" text-anchor="end">10</text>
<line x1="290.4" x2="293.4" y1="108.57" y2="108.57" stroke="#555" stroke-width="1"/>
<text x="288.8" y="114.2" font-size="14.6" fill="#4d4d4d" stroke="#4d4d4d" stroke-width="0.25" text-anchor="end">25</text>
<line x1="290.4" x2="293.4" y1="77.90" y2="77.90" stroke="#555" stroke-width="1"/>
<text x="288.8" y="83.5" font-size="14.6" fill="#4d4d4d" stroke="#4d4d4d" stroke-width="0.25" text-anchor="end">50</text>
<line x1="290.4" x2="293.4" y1="47.23" y2="47.23" stroke="#555" stroke-width="1"/>
<text x="288.8" y="52.8" font-size="14.6" fill="#4d4d4d" stroke="#4d4d4d" stroke-width="0.25" text-anchor="end">100</text>
<text x="395.4" y="16.3" font-size="14.4" fill="#1a1a1a" stroke="#1a1a1a" stroke-width="0.3" text-anchor="middle">LIVER</text>
<rect x="504.4" y="21.4" width="203.60000000000002" height="194.1" fill="none" stroke="#7a7a7a" stroke-width="1"/>
<rect x="504.4" y="0.5" width="203.60000000000002" height="20.9" fill="#d9d9d9" stroke="#999999" stroke-width="1"/>
<line x1="504.4" x2="708.0" y1="21.4" y2="21.4" stroke="#585858" stroke-width="1.5"/>
<line x1="513.7" x2="513.7" y1="21.4" y2="27.599999999999998" stroke="#444" stroke-width="1.4"/>
<line x1="540.3" x2="540.3" y1="21.4" y2="27.599999999999998" stroke="#444" stroke-width="1.4"/>
<line x1="561.6" x2="561.6" y1="21.4" y2="27.599999999999998" stroke="#444" stroke-width="1.4"/>
<line x1="588.1" x2="588.1" y1="21.4" y2="27.599999999999998" stroke="#444" stroke-width="1.4"/>
<line x1="609.4" x2="609.4" y1="21.4" y2="27.599999999999998" stroke="#444" stroke-width="1.4"/>
<line x1="635.7" x2="635.7" y1="21.4" y2="27.599999999999998" stroke="#444" stroke-width="1.4"/>
<line x1="699.6" x2="699.6" y1="21.4" y2="27.599999999999998" stroke="#444" stroke-width="1.4"/>
<line x1="526.70" x2="526.70" y1="215.5" y2="218.0" stroke="#555" stroke-width="1"/>
<text x="527.00" y="230.6" font-size="14.6" fill="#4d4d4d" stroke="#4d4d4d" stroke-width="0.25" text-anchor="middle">0</text>
<line x1="558.52" x2="558.52" y1="215.5" y2="218.0" stroke="#555" stroke-width="1"/>
<text x="558.82" y="230.6" font-size="14.6" fill="#4d4d4d" stroke="#4d4d4d" stroke-width="0.25" text-anchor="middle">12</text>
<line x1="590.35" x2="590.35" y1="215.5" y2="218.0" stroke="#555" stroke-width="1"/>
<text x="590.65" y="230.6" font-size="14.6" fill="#4d4d4d" stroke="#4d4d4d" stroke-width="0.25" text-anchor="middle">24</text>
<line x1="622.17" x2="622.17" y1="215.5" y2="218.0" stroke="#555" stroke-width="1"/>
<text x="622.47" y="230.6" font-size="14.6" fill="#4d4d4d" stroke="#4d4d4d" stroke-width="0.25" text-anchor="middle">36</text>
<line x1="654.00" x2="654.00" y1="215.5" y2="218.0" stroke="#555" stroke-width="1"/>
<text x="654.30" y="230.6" font-size="14.6" fill="#4d4d4d" stroke="#4d4d4d" stroke-width="0.25" text-anchor="middle">48</text>
<line x1="685.82" x2="685.82" y1="215.5" y2="218.0" stroke="#555" stroke-width="1"/>
<text x="686.12" y="230.6" font-size="14.6" fill="#4d4d4d" stroke="#4d4d4d" stroke-width="0.25" text-anchor="middle">60</text>
<line x1="501.4" x2="504.4" y1="179.78" y2="179.78" stroke="#555" stroke-width="1"/>
<line x1="501.4" x2="504.4" y1="149.11" y2="149.11" stroke="#555" stroke-width="1"/>
<line x1="501.4" x2="504.4" y1="108.57" y2="108.57" stroke="#555" stroke-width="1"/>
<line x1="501.4" x2="504.4" y1="77.90" y2="77.90" stroke="#555" stroke-width="1"/>
<line x1="501.4" x2="504.4" y1="47.23" y2="47.23" stroke="#555" stroke-width="1"/>
<text x="606.2" y="16.3" font-size="14.4" fill="#1a1a1a" stroke="#1a1a1a" stroke-width="0.3" text-anchor="middle">LYMPH NODES</text>
<text x="0" y="0" font-size="17.5" fill="#1a1a1a" stroke="#1a1a1a" stroke-width="0.35" text-anchor="middle" transform="translate(14.0,110.8) rotate(-90) scale(1.084,1)">Lesion diameter (mm)</text>
<text x="0" y="0" font-size="17.8" fill="#1a1a1a" stroke="#1a1a1a" stroke-width="0.35" text-anchor="middle" transform="translate(377.4,272.6) scale(1.075,1)">Time (Weeks)</text>
</svg></body></html>
